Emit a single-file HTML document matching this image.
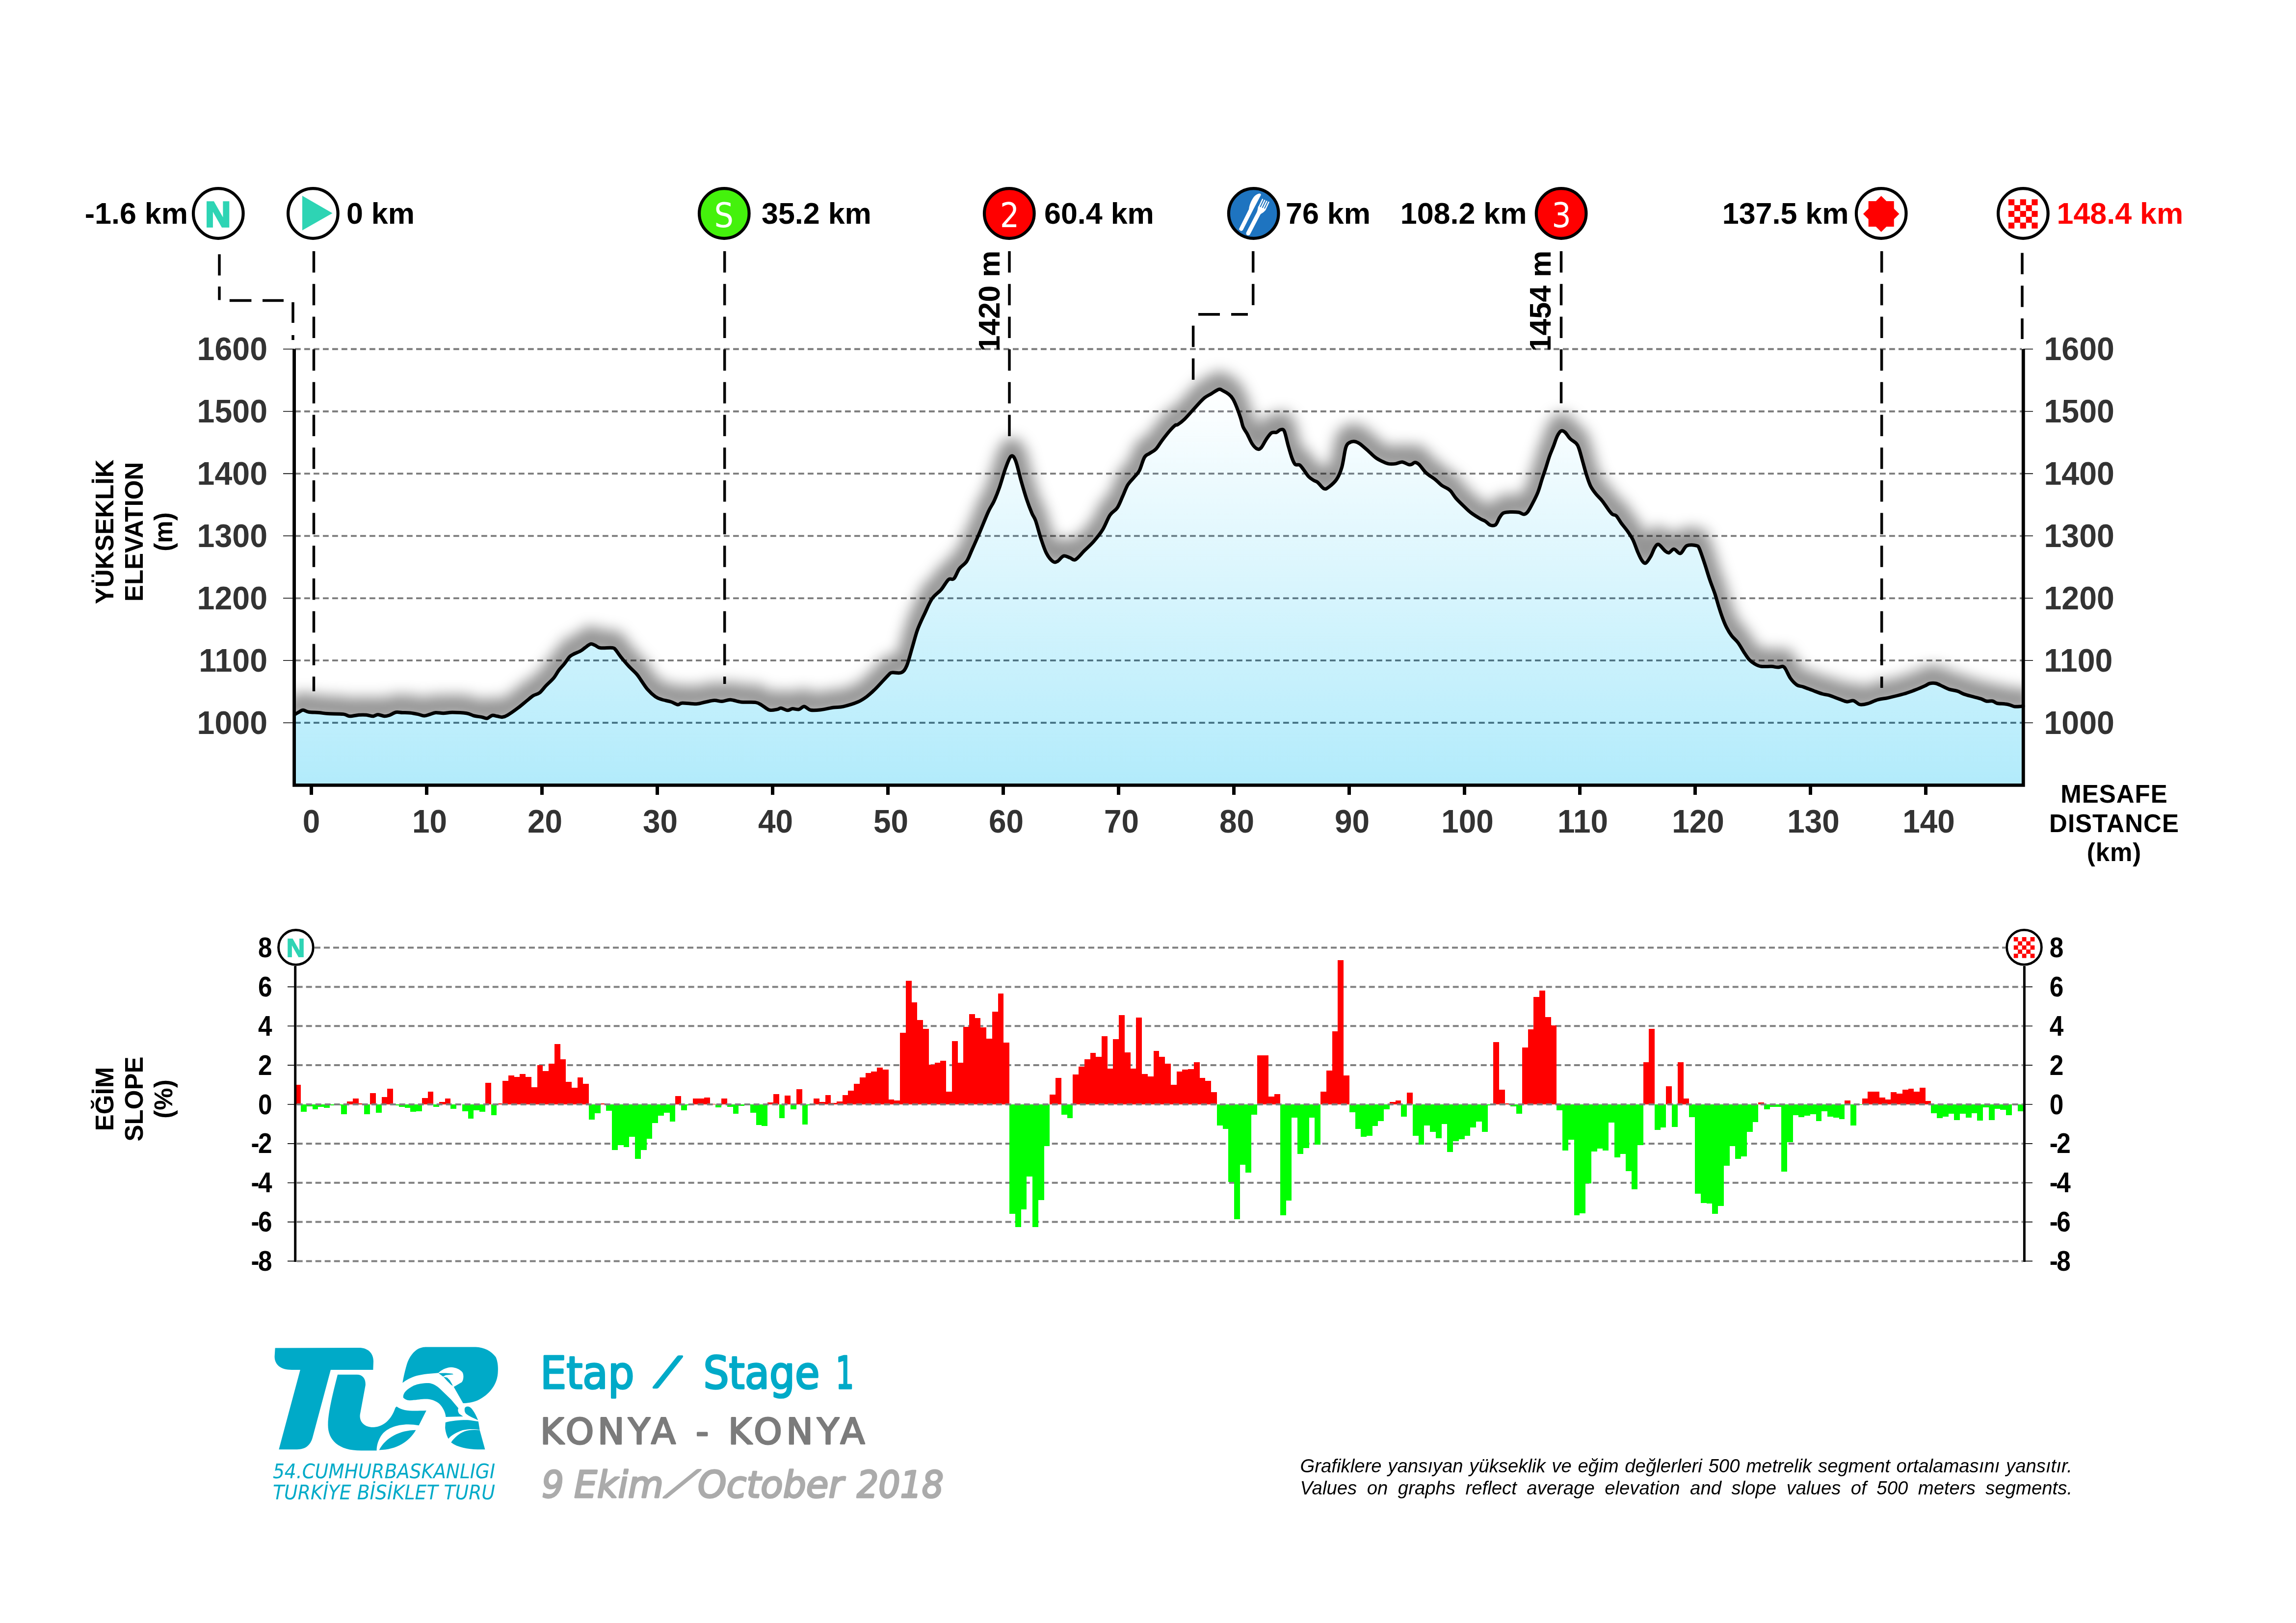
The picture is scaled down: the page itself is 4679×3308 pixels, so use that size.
<!DOCTYPE html><html><head><meta charset="utf-8"><title>Etap 1 Konya - Konya</title>
<style>html,body{margin:0;padding:0;background:#fff;}body{width:4679px;height:3308px;overflow:hidden;position:relative;}svg{position:absolute;left:0;top:0;display:block;}.note{position:absolute;left:2650px;width:1578px;font:italic 35.5px "Liberation Sans", Arial, sans-serif;color:#000;text-align:justify;text-align-last:justify;white-space:nowrap;line-height:45px;}</style></head><body>
<svg width="4679" height="3308" viewBox="0 0 4679 3308">
<defs>
<linearGradient id="gfill" gradientUnits="userSpaceOnUse" x1="0" y1="790" x2="0" y2="1600"><stop offset="0" stop-color="#ffffff"/><stop offset="1" stop-color="#b2ebfb"/></linearGradient>
<filter id="glow" x="-5%" y="-20%" width="110%" height="140%"><feGaussianBlur stdDeviation="14"/></filter>
<clipPath id="plot"><rect x="600" y="631.5" width="3523.3" height="968.5"/></clipPath>
<clipPath id="abovegrid"><rect x="0" y="0" width="4679" height="712.5"/></clipPath>
</defs>
<g clip-path="url(#plot)"><path transform="translate(0,-14)" d="M601.8,1455.6 C603.1,1454.9 607,1452.6 609.6,1451.2 C612.2,1449.8 614.1,1447.2 617.4,1447.2 C620.7,1447.2 623.8,1450.3 629.2,1451.2 C634.7,1452.1 643.6,1451.9 650.1,1452.5 C656.6,1453.1 660.1,1454.1 668.4,1454.6 C676.7,1455.1 692.4,1454.7 699.8,1455.6 C707.2,1456.5 707.6,1459.5 712.8,1459.8 C718,1460.1 725.4,1457.6 731.1,1457.2 C736.8,1456.8 742,1456.8 746.8,1457.2 C751.6,1457.6 756,1459.9 759.9,1459.8 C763.8,1459.7 766.4,1456.4 770.3,1456.4 C774.2,1456.4 779.5,1459.6 783.4,1459.8 C787.3,1460 789.9,1459 793.8,1457.7 C797.7,1456.4 802.5,1452.6 806.9,1451.7 C811.3,1450.8 815.2,1452.3 820,1452.5 C824.8,1452.7 830.4,1452.5 835.6,1453 C840.8,1453.5 846.5,1454.6 851.3,1455.6 C856.1,1456.6 860.5,1458.9 864.4,1459 C868.3,1459.1 870.9,1457.5 874.8,1456.4 C878.7,1455.3 883.1,1452.9 887.9,1452.5 C892.7,1452.1 897.9,1453.9 903.6,1453.8 C909.3,1453.7 914.1,1452 921.9,1452 C929.7,1452 943.2,1452.6 950.6,1453.8 C958,1455 961.1,1457.7 966.3,1459 C971.5,1460.3 977.6,1460.7 982,1461.6 C986.4,1462.5 988.9,1464.8 992.4,1464.2 C995.9,1463.6 999.4,1458.9 1002.9,1458.2 C1006.4,1457.5 1009.8,1459.2 1013.3,1459.8 C1016.8,1460.4 1020.3,1461.9 1023.8,1461.6 C1027.3,1461.2 1029,1460.8 1034.2,1457.7 C1039.4,1454.7 1048.6,1448.2 1055.1,1443.3 C1061.6,1438.4 1068.2,1432.6 1073.4,1428.4 C1078.6,1424.2 1082.1,1420.7 1086.5,1418 C1090.9,1415.3 1095.2,1415.4 1099.6,1412 C1103.9,1408.6 1107.8,1402.6 1112.6,1397.6 C1117.4,1392.6 1123.9,1387.1 1128.3,1381.9 C1132.7,1376.7 1135.2,1371 1138.8,1366.2 C1142.4,1361.4 1146.4,1357.8 1150,1353.2 C1153.6,1348.6 1157.5,1342.1 1160.5,1338.8 C1163.5,1335.5 1164.6,1335.6 1168.3,1333.6 C1172,1331.6 1178.8,1329.2 1182.7,1327 C1186.6,1324.8 1188.3,1322.9 1191.8,1320.5 C1195.3,1318.1 1200.1,1313.6 1203.6,1312.7 C1207.1,1311.8 1209.4,1314 1212.7,1315.3 C1216,1316.6 1217.3,1319.6 1223.2,1320.5 C1229.1,1321.4 1242.8,1319.8 1248,1320.5 C1253.2,1321.2 1251.7,1321.4 1254.5,1324.4 C1257.3,1327.5 1260.6,1333.3 1265,1338.8 C1269.4,1344.2 1275.3,1351.2 1280.7,1357.1 C1286.1,1363 1293.2,1369.1 1297.6,1374.1 C1301.9,1379.1 1303.1,1381.9 1306.8,1387.1 C1310.5,1392.3 1315.1,1400 1319.9,1405.4 C1324.7,1410.9 1330.7,1416.4 1335.5,1419.8 C1340.3,1423.2 1343.4,1424 1348.6,1425.8 C1353.8,1427.5 1361.5,1428.5 1366.9,1430.3 C1372.4,1432 1377.4,1435.9 1381.3,1436.3 C1385.2,1436.7 1384.1,1433.2 1390.4,1432.9 C1396.7,1432.6 1411.4,1435 1419.2,1434.7 C1427,1434.4 1431.4,1432.2 1437.5,1431 C1443.6,1429.8 1450,1427.8 1455.7,1427.6 C1461.4,1427.3 1466,1429.7 1471.4,1429.5 C1476.9,1429.3 1481.9,1426 1488.4,1426.3 C1494.9,1426.5 1502.1,1430.1 1510.6,1431 C1519.1,1431.9 1532.4,1430.5 1539.4,1431.6 C1546.4,1432.6 1547.6,1434.7 1552.4,1437.3 C1557.2,1439.9 1562.9,1445.8 1568.1,1447.2 C1573.3,1448.6 1579.9,1446.6 1583.8,1445.9 C1587.7,1445.2 1588.1,1443 1591.6,1443.3 C1595.1,1443.6 1600.8,1447.6 1604.7,1447.8 C1608.6,1448 1611.3,1444.9 1615.2,1444.6 C1619.1,1444.3 1624.3,1446.7 1628.2,1445.9 C1632.1,1445.1 1634.8,1439.7 1638.7,1439.9 C1642.6,1440.1 1646.1,1446.1 1651.7,1447.2 C1657.3,1448.3 1664.8,1447.6 1672.6,1446.7 C1680.4,1445.8 1691.1,1443.1 1698.8,1442 C1706.5,1440.9 1710.3,1442 1718.5,1440.1 C1726.7,1438.2 1740.1,1434.2 1748.1,1430.8 C1756.1,1427.4 1760.3,1424.3 1766.5,1419.7 C1772.7,1415.1 1777.6,1410.5 1785,1403.1 C1792.4,1395.7 1805.4,1380.8 1810.9,1375.4 C1816.5,1370 1814,1371.7 1818.3,1370.9 C1822.6,1370.2 1831.9,1373.2 1836.8,1370.9 C1841.7,1368.6 1844.2,1365.4 1847.9,1356.9 C1851.6,1348.4 1855.3,1332.2 1859,1319.9 C1862.7,1307.6 1865.7,1294.7 1870,1283 C1874.3,1271.3 1879.9,1260.2 1884.8,1249.7 C1889.7,1239.2 1894,1228.1 1899.6,1220.1 C1905.1,1212.1 1912.5,1208.1 1918.1,1201.6 C1923.6,1195.1 1928.6,1185 1932.9,1181.3 C1937.2,1177.6 1940.3,1183.1 1944,1179.4 C1947.7,1175.7 1950.8,1164.9 1955.1,1159.1 C1959.4,1153.2 1965.6,1150.8 1969.9,1144.3 C1974.2,1137.8 1976.7,1129.8 1981,1120.3 C1985.3,1110.8 1990.2,1099.9 1995.7,1087 C2001.2,1074.1 2009.3,1053.5 2014.2,1042.7 C2019.1,1031.9 2021.6,1030.3 2025.3,1022.3 C2029,1014.3 2032.4,1006 2036.4,994.6 C2040.4,983.2 2045.4,964.7 2049.4,953.9 C2053.4,943.1 2057,932.4 2060.4,929.9 C2063.8,927.4 2066.3,930.8 2069.7,939.1 C2073.1,947.4 2077.1,966.8 2080.8,979.8 C2084.5,992.8 2088.2,1005.7 2091.9,1016.8 C2095.6,1027.9 2099.9,1039 2103,1046.4 C2106.1,1053.8 2107.3,1052.5 2110.4,1061.1 C2113.5,1069.7 2117.7,1087 2121.4,1098.1 C2125.1,1109.2 2128.5,1120 2132.5,1127.7 C2136.5,1135.4 2141.8,1141.5 2145.5,1144.3 C2149.2,1147.1 2151,1146.1 2154.7,1144.3 C2158.4,1142.5 2163.4,1134.4 2167.7,1133.2 C2172,1132 2176.6,1135.7 2180.6,1136.9 C2184.6,1138.1 2186.8,1143.1 2191.7,1140.6 C2196.6,1138.1 2204,1128.2 2210.2,1122.1 C2216.4,1115.9 2222.5,1110.8 2228.7,1103.7 C2234.8,1096.6 2241.6,1088.5 2247.1,1079.6 C2252.6,1070.7 2257,1057.5 2261.9,1050.1 C2266.8,1042.7 2272.4,1041.7 2276.7,1035.3 C2281,1028.9 2284.2,1019.6 2287.8,1011.8 C2291.4,1004 2294.4,994.8 2298.3,988.3 C2302.2,981.8 2307.5,977.4 2311.4,972.6 C2315.3,967.8 2318.3,966.2 2321.8,959.5 C2325.3,952.8 2328.8,938 2332.3,932.1 C2335.8,926.2 2338.8,927 2342.7,924.2 C2346.6,921.4 2351.5,919.7 2355.8,915.1 C2360.2,910.5 2364,903.1 2368.8,896.8 C2373.6,890.5 2380.1,882.2 2384.5,877.2 C2388.9,872.2 2392.4,868.7 2395,866.7 C2397.6,864.7 2397.1,867.4 2400.2,865.4 C2403.2,863.4 2408.5,859.6 2413.3,855 C2418.1,850.4 2424.2,843.2 2429,838 C2433.8,832.8 2437.7,828.2 2442,823.6 C2446.3,819 2450.7,814.1 2455.1,810.6 C2459.5,807.1 2463.4,805.5 2468.2,802.7 C2473,799.9 2479.9,794.7 2483.8,793.6 C2487.7,792.5 2488.2,794.5 2491.7,796.2 C2495.2,797.9 2501.2,801.2 2504.7,804 C2508.2,806.8 2510,808.8 2512.6,813.2 C2515.2,817.6 2517.8,823.7 2520.4,830.2 C2523,836.7 2526.1,845.6 2528.3,852.4 C2530.5,859.1 2531.3,865.5 2533.5,870.7 C2535.7,875.9 2538.2,878.1 2541.3,883.7 C2544.4,889.4 2548.3,899.4 2551.8,904.6 C2555.3,909.8 2559.1,913.8 2562.2,915.1 C2565.2,916.4 2567,915.8 2570.1,912.5 C2573.2,909.2 2577,900.5 2580.5,895.5 C2584,890.5 2587.5,884.8 2591,882.4 C2594.5,880 2598.3,882.2 2601.4,881.1 C2604.5,880 2606.7,876.3 2609.3,875.9 C2611.9,875.5 2614.5,873.3 2617.1,878.5 C2619.7,883.7 2622.3,898.1 2624.9,907.2 C2627.5,916.4 2630.4,926.9 2632.8,933.4 C2635.2,939.9 2636.7,944 2639.3,946.4 C2641.9,948.8 2645.7,946 2648.5,947.8 C2651.3,949.5 2653.2,953 2656.3,956.9 C2659.4,960.8 2663.3,967.6 2666.8,971.3 C2670.3,975 2674.1,977.1 2677.2,979.1 C2680.2,981.1 2681.6,980.2 2685.1,983 C2688.6,985.8 2694.2,994.6 2698.1,996.1 C2702,997.6 2704.2,995.5 2708.6,992.2 C2712.9,988.9 2719.8,983.2 2724.2,976.5 C2728.5,969.8 2731.6,962.4 2734.7,951.7 C2737.8,941 2739.9,920.8 2742.5,912.5 C2745.1,904.2 2747.3,904.1 2750.4,902 C2753.5,899.9 2757.3,899.5 2760.8,899.9 C2764.3,900.3 2766.5,901.2 2771.3,904.6 C2776.1,908 2784.4,915.7 2789.6,920.3 C2794.8,924.9 2798.2,928.8 2802.6,932.1 C2806.9,935.4 2811.3,937.7 2815.7,939.9 C2820.1,942.1 2824,944.2 2828.8,945.1 C2833.6,946 2839.7,945.7 2844.5,945.1 C2849.3,944.5 2853.2,941.4 2857.5,941.7 C2861.8,942 2867.2,946.1 2870.5,946.9 C2873.8,947.7 2874.8,947 2877,946.3 C2879.2,945.5 2881.1,942.4 2883.5,942.4 C2885.9,942.4 2887.9,943 2891.4,946.3 C2894.9,949.6 2900.9,958.3 2904.4,962 C2907.9,965.7 2908.8,966 2912.3,968.6 C2915.8,971.2 2921,974.2 2925.3,977.7 C2929.7,981.2 2934.2,986.5 2938.4,989.5 C2942.6,992.5 2947.1,994 2950.2,996 C2953.2,998 2953.9,997.9 2956.7,1001.2 C2959.5,1004.5 2962.3,1010.1 2967.1,1015.6 C2971.9,1021.1 2980.2,1028.9 2985.4,1033.9 C2990.6,1038.9 2993.3,1041.7 2998.5,1045.6 C3003.7,1049.5 3012,1054.6 3016.8,1057.4 C3021.6,1060.2 3023.7,1060.4 3027.2,1062.6 C3030.7,1064.8 3034.2,1069.4 3037.7,1070.5 C3041.2,1071.6 3045.1,1071.8 3048.2,1069.2 C3051.2,1066.6 3053.4,1058.7 3056,1054.8 C3058.6,1050.9 3060.3,1047.5 3063.8,1045.6 C3067.3,1043.7 3071.7,1043.8 3076.9,1043.6 C3082.1,1043.4 3090.4,1043.5 3095.2,1044.3 C3100,1045.1 3102.5,1048.5 3105.6,1048.3 C3108.7,1048.1 3110.4,1046.9 3113.5,1043 C3116.6,1039.1 3120.4,1031.5 3123.9,1024.7 C3127.4,1018 3131.4,1010.3 3134.4,1002.5 C3137.4,994.7 3139.6,985.8 3142.2,977.7 C3144.8,969.7 3147.5,962.2 3150.1,954.2 C3152.7,946.2 3155.3,936.8 3157.9,929.4 C3160.5,922 3163.1,916.6 3165.7,909.8 C3168.3,903 3171,894 3173.6,888.8 C3176.2,883.6 3178.8,879.7 3181.4,878.4 C3184,877.1 3186.2,878.4 3189.3,881 C3192.4,883.6 3195.8,890.2 3199.7,894.1 C3203.6,898 3209.8,901 3212.8,904.5 C3215.9,908 3215.8,908.7 3218,915 C3220.2,921.3 3223.2,933.2 3225.8,942.4 C3228.4,951.5 3231.1,961.8 3233.7,969.9 C3236.3,978 3238.4,984.7 3241.5,990.8 C3244.6,996.9 3248.1,1001.4 3252,1006.4 C3255.9,1011.4 3260.8,1015.3 3265.1,1020.8 C3269.4,1026.2 3274.6,1034.5 3278.1,1039.1 C3281.6,1043.7 3283.4,1046.2 3286,1048.3 C3288.6,1050.3 3290.8,1048.4 3293.8,1051.4 C3296.8,1054.5 3300.3,1061.2 3304.2,1066.6 C3308.1,1071.9 3313.4,1077.8 3317.3,1083.5 C3321.2,1089.2 3324.3,1093.3 3327.8,1100.5 C3331.3,1107.7 3335.1,1119.7 3338.2,1126.7 C3341.2,1133.7 3343.5,1138.8 3346.1,1142.3 C3348.7,1145.8 3350.8,1149.1 3353.9,1147.6 C3357,1146.1 3361.4,1138.4 3364.4,1133.2 C3367.4,1128 3369.6,1120.1 3372.2,1116.2 C3374.8,1112.3 3376.5,1108.6 3380,1109.7 C3383.5,1110.8 3389.6,1119.9 3393.1,1122.7 C3396.6,1125.5 3397.8,1127.3 3400.9,1126.7 C3404,1126.1 3407.5,1119.1 3411.4,1119.3 C3415.3,1119.5 3420.2,1129.2 3424.5,1128 C3428.8,1126.8 3432.1,1115 3437.5,1112.3 C3442.9,1109.6 3452.7,1110.9 3457,1112.1 C3461.3,1113.2 3460.7,1113 3463.5,1119.2 C3466.3,1125.4 3470.5,1138.8 3474,1149.2 C3477.5,1159.7 3480.9,1171.7 3484.4,1181.9 C3487.9,1192.2 3491.9,1201.6 3494.9,1210.7 C3497.9,1219.8 3500.1,1228.5 3502.7,1236.8 C3505.3,1245.1 3508,1253.3 3510.6,1260.3 C3513.2,1267.3 3515.4,1272.7 3518.4,1278.6 C3521.4,1284.5 3524.9,1290.4 3528.8,1295.6 C3532.7,1300.8 3537.5,1304.1 3541.9,1310 C3546.3,1315.9 3551.1,1325 3555,1330.9 C3558.9,1336.8 3561.9,1341.5 3565.4,1345.2 C3568.9,1348.9 3572,1350.9 3575.9,1353.1 C3579.8,1355.3 3583.3,1357.4 3589,1358.3 C3594.7,1359.2 3604.2,1358 3609.9,1358.3 C3615.6,1358.6 3619,1360.1 3622.9,1360.1 C3626.8,1360.1 3630.8,1357.7 3633.4,1358.3 C3636,1358.9 3636,1359.4 3638.6,1363.5 C3641.2,1367.6 3645.2,1377.6 3649.1,1383.1 C3653,1388.5 3657.8,1393.4 3662.1,1396.2 C3666.4,1399 3669.5,1398.1 3675.2,1400.1 C3680.9,1402.1 3689.6,1405.6 3696.1,1408 C3702.6,1410.4 3709.2,1413 3714.4,1414.5 C3719.6,1416 3721.8,1415.4 3727.5,1417.1 C3733.2,1418.8 3742.3,1422.7 3748.4,1424.9 C3754.5,1427.1 3759.2,1429.7 3764,1430.2 C3768.8,1430.7 3772.7,1427.1 3777.1,1428.1 C3781.5,1429 3785.4,1434.9 3790.2,1435.9 C3795,1436.9 3799.7,1435.7 3805.8,1434.1 C3811.9,1432.5 3819.8,1428.2 3826.8,1426.2 C3833.8,1424.2 3839,1424.2 3847.7,1422.3 C3856.4,1420.3 3870.3,1417 3879,1414.5 C3887.7,1412 3894.3,1409.5 3900,1407.4 C3905.7,1405.4 3909.2,1403.8 3913.1,1402.2 C3917,1400.6 3920.2,1399.1 3923.5,1397.6 C3926.8,1396.1 3929,1393.8 3932.7,1393 C3936.4,1392.2 3941.3,1392 3945.7,1393 C3950,1394 3954.4,1396.9 3958.8,1398.9 C3963.2,1400.9 3966.9,1403.2 3971.9,1404.8 C3976.9,1406.4 3983.9,1407.1 3988.9,1408.7 C3993.9,1410.3 3997.1,1412.8 4001.9,1414.6 C4006.7,1416.3 4011.7,1417.6 4017.6,1419.2 C4023.5,1420.8 4032.2,1422.8 4037.2,1424.4 C4042.2,1426 4043.8,1428.2 4047.7,1429 C4051.6,1429.8 4057,1428.2 4060.7,1429 C4064.4,1429.8 4065.8,1432.5 4069.9,1433.5 C4074,1434.5 4081.2,1434.2 4085.5,1434.8 C4089.8,1435.3 4092.7,1435.9 4096,1436.8 C4099.3,1437.7 4101.8,1439.5 4105.1,1440.1 C4108.4,1440.6 4112.6,1440.3 4115.6,1440.1 C4118.6,1439.9 4121.8,1439 4123,1438.8" fill="none" stroke="#000" stroke-opacity="0.42" stroke-width="44" stroke-linejoin="round" stroke-linecap="round" filter="url(#glow)"/></g>
<path d="M601,1473.2 H4120.3 M601,1346.2 H4120.3 M601,1219.3 H4120.3 M601,1092.3 H4120.3 M601,965.4 H4120.3 M601,838.5 H4120.3 M601,711.5 H4120.3" stroke="#000" stroke-opacity="0.52" stroke-width="3.8" stroke-dasharray="11.8 7.2" fill="none" style="mix-blend-mode:multiply"/>
<clipPath id="fillclip"><path d="M601.8,1455.6 C603.1,1454.9 607,1452.6 609.6,1451.2 C612.2,1449.8 614.1,1447.2 617.4,1447.2 C620.7,1447.2 623.8,1450.3 629.2,1451.2 C634.7,1452.1 643.6,1451.9 650.1,1452.5 C656.6,1453.1 660.1,1454.1 668.4,1454.6 C676.7,1455.1 692.4,1454.7 699.8,1455.6 C707.2,1456.5 707.6,1459.5 712.8,1459.8 C718,1460.1 725.4,1457.6 731.1,1457.2 C736.8,1456.8 742,1456.8 746.8,1457.2 C751.6,1457.6 756,1459.9 759.9,1459.8 C763.8,1459.7 766.4,1456.4 770.3,1456.4 C774.2,1456.4 779.5,1459.6 783.4,1459.8 C787.3,1460 789.9,1459 793.8,1457.7 C797.7,1456.4 802.5,1452.6 806.9,1451.7 C811.3,1450.8 815.2,1452.3 820,1452.5 C824.8,1452.7 830.4,1452.5 835.6,1453 C840.8,1453.5 846.5,1454.6 851.3,1455.6 C856.1,1456.6 860.5,1458.9 864.4,1459 C868.3,1459.1 870.9,1457.5 874.8,1456.4 C878.7,1455.3 883.1,1452.9 887.9,1452.5 C892.7,1452.1 897.9,1453.9 903.6,1453.8 C909.3,1453.7 914.1,1452 921.9,1452 C929.7,1452 943.2,1452.6 950.6,1453.8 C958,1455 961.1,1457.7 966.3,1459 C971.5,1460.3 977.6,1460.7 982,1461.6 C986.4,1462.5 988.9,1464.8 992.4,1464.2 C995.9,1463.6 999.4,1458.9 1002.9,1458.2 C1006.4,1457.5 1009.8,1459.2 1013.3,1459.8 C1016.8,1460.4 1020.3,1461.9 1023.8,1461.6 C1027.3,1461.2 1029,1460.8 1034.2,1457.7 C1039.4,1454.7 1048.6,1448.2 1055.1,1443.3 C1061.6,1438.4 1068.2,1432.6 1073.4,1428.4 C1078.6,1424.2 1082.1,1420.7 1086.5,1418 C1090.9,1415.3 1095.2,1415.4 1099.6,1412 C1103.9,1408.6 1107.8,1402.6 1112.6,1397.6 C1117.4,1392.6 1123.9,1387.1 1128.3,1381.9 C1132.7,1376.7 1135.2,1371 1138.8,1366.2 C1142.4,1361.4 1146.4,1357.8 1150,1353.2 C1153.6,1348.6 1157.5,1342.1 1160.5,1338.8 C1163.5,1335.5 1164.6,1335.6 1168.3,1333.6 C1172,1331.6 1178.8,1329.2 1182.7,1327 C1186.6,1324.8 1188.3,1322.9 1191.8,1320.5 C1195.3,1318.1 1200.1,1313.6 1203.6,1312.7 C1207.1,1311.8 1209.4,1314 1212.7,1315.3 C1216,1316.6 1217.3,1319.6 1223.2,1320.5 C1229.1,1321.4 1242.8,1319.8 1248,1320.5 C1253.2,1321.2 1251.7,1321.4 1254.5,1324.4 C1257.3,1327.5 1260.6,1333.3 1265,1338.8 C1269.4,1344.2 1275.3,1351.2 1280.7,1357.1 C1286.1,1363 1293.2,1369.1 1297.6,1374.1 C1301.9,1379.1 1303.1,1381.9 1306.8,1387.1 C1310.5,1392.3 1315.1,1400 1319.9,1405.4 C1324.7,1410.9 1330.7,1416.4 1335.5,1419.8 C1340.3,1423.2 1343.4,1424 1348.6,1425.8 C1353.8,1427.5 1361.5,1428.5 1366.9,1430.3 C1372.4,1432 1377.4,1435.9 1381.3,1436.3 C1385.2,1436.7 1384.1,1433.2 1390.4,1432.9 C1396.7,1432.6 1411.4,1435 1419.2,1434.7 C1427,1434.4 1431.4,1432.2 1437.5,1431 C1443.6,1429.8 1450,1427.8 1455.7,1427.6 C1461.4,1427.3 1466,1429.7 1471.4,1429.5 C1476.9,1429.3 1481.9,1426 1488.4,1426.3 C1494.9,1426.5 1502.1,1430.1 1510.6,1431 C1519.1,1431.9 1532.4,1430.5 1539.4,1431.6 C1546.4,1432.6 1547.6,1434.7 1552.4,1437.3 C1557.2,1439.9 1562.9,1445.8 1568.1,1447.2 C1573.3,1448.6 1579.9,1446.6 1583.8,1445.9 C1587.7,1445.2 1588.1,1443 1591.6,1443.3 C1595.1,1443.6 1600.8,1447.6 1604.7,1447.8 C1608.6,1448 1611.3,1444.9 1615.2,1444.6 C1619.1,1444.3 1624.3,1446.7 1628.2,1445.9 C1632.1,1445.1 1634.8,1439.7 1638.7,1439.9 C1642.6,1440.1 1646.1,1446.1 1651.7,1447.2 C1657.3,1448.3 1664.8,1447.6 1672.6,1446.7 C1680.4,1445.8 1691.1,1443.1 1698.8,1442 C1706.5,1440.9 1710.3,1442 1718.5,1440.1 C1726.7,1438.2 1740.1,1434.2 1748.1,1430.8 C1756.1,1427.4 1760.3,1424.3 1766.5,1419.7 C1772.7,1415.1 1777.6,1410.5 1785,1403.1 C1792.4,1395.7 1805.4,1380.8 1810.9,1375.4 C1816.5,1370 1814,1371.7 1818.3,1370.9 C1822.6,1370.2 1831.9,1373.2 1836.8,1370.9 C1841.7,1368.6 1844.2,1365.4 1847.9,1356.9 C1851.6,1348.4 1855.3,1332.2 1859,1319.9 C1862.7,1307.6 1865.7,1294.7 1870,1283 C1874.3,1271.3 1879.9,1260.2 1884.8,1249.7 C1889.7,1239.2 1894,1228.1 1899.6,1220.1 C1905.1,1212.1 1912.5,1208.1 1918.1,1201.6 C1923.6,1195.1 1928.6,1185 1932.9,1181.3 C1937.2,1177.6 1940.3,1183.1 1944,1179.4 C1947.7,1175.7 1950.8,1164.9 1955.1,1159.1 C1959.4,1153.2 1965.6,1150.8 1969.9,1144.3 C1974.2,1137.8 1976.7,1129.8 1981,1120.3 C1985.3,1110.8 1990.2,1099.9 1995.7,1087 C2001.2,1074.1 2009.3,1053.5 2014.2,1042.7 C2019.1,1031.9 2021.6,1030.3 2025.3,1022.3 C2029,1014.3 2032.4,1006 2036.4,994.6 C2040.4,983.2 2045.4,964.7 2049.4,953.9 C2053.4,943.1 2057,932.4 2060.4,929.9 C2063.8,927.4 2066.3,930.8 2069.7,939.1 C2073.1,947.4 2077.1,966.8 2080.8,979.8 C2084.5,992.8 2088.2,1005.7 2091.9,1016.8 C2095.6,1027.9 2099.9,1039 2103,1046.4 C2106.1,1053.8 2107.3,1052.5 2110.4,1061.1 C2113.5,1069.7 2117.7,1087 2121.4,1098.1 C2125.1,1109.2 2128.5,1120 2132.5,1127.7 C2136.5,1135.4 2141.8,1141.5 2145.5,1144.3 C2149.2,1147.1 2151,1146.1 2154.7,1144.3 C2158.4,1142.5 2163.4,1134.4 2167.7,1133.2 C2172,1132 2176.6,1135.7 2180.6,1136.9 C2184.6,1138.1 2186.8,1143.1 2191.7,1140.6 C2196.6,1138.1 2204,1128.2 2210.2,1122.1 C2216.4,1115.9 2222.5,1110.8 2228.7,1103.7 C2234.8,1096.6 2241.6,1088.5 2247.1,1079.6 C2252.6,1070.7 2257,1057.5 2261.9,1050.1 C2266.8,1042.7 2272.4,1041.7 2276.7,1035.3 C2281,1028.9 2284.2,1019.6 2287.8,1011.8 C2291.4,1004 2294.4,994.8 2298.3,988.3 C2302.2,981.8 2307.5,977.4 2311.4,972.6 C2315.3,967.8 2318.3,966.2 2321.8,959.5 C2325.3,952.8 2328.8,938 2332.3,932.1 C2335.8,926.2 2338.8,927 2342.7,924.2 C2346.6,921.4 2351.5,919.7 2355.8,915.1 C2360.2,910.5 2364,903.1 2368.8,896.8 C2373.6,890.5 2380.1,882.2 2384.5,877.2 C2388.9,872.2 2392.4,868.7 2395,866.7 C2397.6,864.7 2397.1,867.4 2400.2,865.4 C2403.2,863.4 2408.5,859.6 2413.3,855 C2418.1,850.4 2424.2,843.2 2429,838 C2433.8,832.8 2437.7,828.2 2442,823.6 C2446.3,819 2450.7,814.1 2455.1,810.6 C2459.5,807.1 2463.4,805.5 2468.2,802.7 C2473,799.9 2479.9,794.7 2483.8,793.6 C2487.7,792.5 2488.2,794.5 2491.7,796.2 C2495.2,797.9 2501.2,801.2 2504.7,804 C2508.2,806.8 2510,808.8 2512.6,813.2 C2515.2,817.6 2517.8,823.7 2520.4,830.2 C2523,836.7 2526.1,845.6 2528.3,852.4 C2530.5,859.1 2531.3,865.5 2533.5,870.7 C2535.7,875.9 2538.2,878.1 2541.3,883.7 C2544.4,889.4 2548.3,899.4 2551.8,904.6 C2555.3,909.8 2559.1,913.8 2562.2,915.1 C2565.2,916.4 2567,915.8 2570.1,912.5 C2573.2,909.2 2577,900.5 2580.5,895.5 C2584,890.5 2587.5,884.8 2591,882.4 C2594.5,880 2598.3,882.2 2601.4,881.1 C2604.5,880 2606.7,876.3 2609.3,875.9 C2611.9,875.5 2614.5,873.3 2617.1,878.5 C2619.7,883.7 2622.3,898.1 2624.9,907.2 C2627.5,916.4 2630.4,926.9 2632.8,933.4 C2635.2,939.9 2636.7,944 2639.3,946.4 C2641.9,948.8 2645.7,946 2648.5,947.8 C2651.3,949.5 2653.2,953 2656.3,956.9 C2659.4,960.8 2663.3,967.6 2666.8,971.3 C2670.3,975 2674.1,977.1 2677.2,979.1 C2680.2,981.1 2681.6,980.2 2685.1,983 C2688.6,985.8 2694.2,994.6 2698.1,996.1 C2702,997.6 2704.2,995.5 2708.6,992.2 C2712.9,988.9 2719.8,983.2 2724.2,976.5 C2728.5,969.8 2731.6,962.4 2734.7,951.7 C2737.8,941 2739.9,920.8 2742.5,912.5 C2745.1,904.2 2747.3,904.1 2750.4,902 C2753.5,899.9 2757.3,899.5 2760.8,899.9 C2764.3,900.3 2766.5,901.2 2771.3,904.6 C2776.1,908 2784.4,915.7 2789.6,920.3 C2794.8,924.9 2798.2,928.8 2802.6,932.1 C2806.9,935.4 2811.3,937.7 2815.7,939.9 C2820.1,942.1 2824,944.2 2828.8,945.1 C2833.6,946 2839.7,945.7 2844.5,945.1 C2849.3,944.5 2853.2,941.4 2857.5,941.7 C2861.8,942 2867.2,946.1 2870.5,946.9 C2873.8,947.7 2874.8,947 2877,946.3 C2879.2,945.5 2881.1,942.4 2883.5,942.4 C2885.9,942.4 2887.9,943 2891.4,946.3 C2894.9,949.6 2900.9,958.3 2904.4,962 C2907.9,965.7 2908.8,966 2912.3,968.6 C2915.8,971.2 2921,974.2 2925.3,977.7 C2929.7,981.2 2934.2,986.5 2938.4,989.5 C2942.6,992.5 2947.1,994 2950.2,996 C2953.2,998 2953.9,997.9 2956.7,1001.2 C2959.5,1004.5 2962.3,1010.1 2967.1,1015.6 C2971.9,1021.1 2980.2,1028.9 2985.4,1033.9 C2990.6,1038.9 2993.3,1041.7 2998.5,1045.6 C3003.7,1049.5 3012,1054.6 3016.8,1057.4 C3021.6,1060.2 3023.7,1060.4 3027.2,1062.6 C3030.7,1064.8 3034.2,1069.4 3037.7,1070.5 C3041.2,1071.6 3045.1,1071.8 3048.2,1069.2 C3051.2,1066.6 3053.4,1058.7 3056,1054.8 C3058.6,1050.9 3060.3,1047.5 3063.8,1045.6 C3067.3,1043.7 3071.7,1043.8 3076.9,1043.6 C3082.1,1043.4 3090.4,1043.5 3095.2,1044.3 C3100,1045.1 3102.5,1048.5 3105.6,1048.3 C3108.7,1048.1 3110.4,1046.9 3113.5,1043 C3116.6,1039.1 3120.4,1031.5 3123.9,1024.7 C3127.4,1018 3131.4,1010.3 3134.4,1002.5 C3137.4,994.7 3139.6,985.8 3142.2,977.7 C3144.8,969.7 3147.5,962.2 3150.1,954.2 C3152.7,946.2 3155.3,936.8 3157.9,929.4 C3160.5,922 3163.1,916.6 3165.7,909.8 C3168.3,903 3171,894 3173.6,888.8 C3176.2,883.6 3178.8,879.7 3181.4,878.4 C3184,877.1 3186.2,878.4 3189.3,881 C3192.4,883.6 3195.8,890.2 3199.7,894.1 C3203.6,898 3209.8,901 3212.8,904.5 C3215.9,908 3215.8,908.7 3218,915 C3220.2,921.3 3223.2,933.2 3225.8,942.4 C3228.4,951.5 3231.1,961.8 3233.7,969.9 C3236.3,978 3238.4,984.7 3241.5,990.8 C3244.6,996.9 3248.1,1001.4 3252,1006.4 C3255.9,1011.4 3260.8,1015.3 3265.1,1020.8 C3269.4,1026.2 3274.6,1034.5 3278.1,1039.1 C3281.6,1043.7 3283.4,1046.2 3286,1048.3 C3288.6,1050.3 3290.8,1048.4 3293.8,1051.4 C3296.8,1054.5 3300.3,1061.2 3304.2,1066.6 C3308.1,1071.9 3313.4,1077.8 3317.3,1083.5 C3321.2,1089.2 3324.3,1093.3 3327.8,1100.5 C3331.3,1107.7 3335.1,1119.7 3338.2,1126.7 C3341.2,1133.7 3343.5,1138.8 3346.1,1142.3 C3348.7,1145.8 3350.8,1149.1 3353.9,1147.6 C3357,1146.1 3361.4,1138.4 3364.4,1133.2 C3367.4,1128 3369.6,1120.1 3372.2,1116.2 C3374.8,1112.3 3376.5,1108.6 3380,1109.7 C3383.5,1110.8 3389.6,1119.9 3393.1,1122.7 C3396.6,1125.5 3397.8,1127.3 3400.9,1126.7 C3404,1126.1 3407.5,1119.1 3411.4,1119.3 C3415.3,1119.5 3420.2,1129.2 3424.5,1128 C3428.8,1126.8 3432.1,1115 3437.5,1112.3 C3442.9,1109.6 3452.7,1110.9 3457,1112.1 C3461.3,1113.2 3460.7,1113 3463.5,1119.2 C3466.3,1125.4 3470.5,1138.8 3474,1149.2 C3477.5,1159.7 3480.9,1171.7 3484.4,1181.9 C3487.9,1192.2 3491.9,1201.6 3494.9,1210.7 C3497.9,1219.8 3500.1,1228.5 3502.7,1236.8 C3505.3,1245.1 3508,1253.3 3510.6,1260.3 C3513.2,1267.3 3515.4,1272.7 3518.4,1278.6 C3521.4,1284.5 3524.9,1290.4 3528.8,1295.6 C3532.7,1300.8 3537.5,1304.1 3541.9,1310 C3546.3,1315.9 3551.1,1325 3555,1330.9 C3558.9,1336.8 3561.9,1341.5 3565.4,1345.2 C3568.9,1348.9 3572,1350.9 3575.9,1353.1 C3579.8,1355.3 3583.3,1357.4 3589,1358.3 C3594.7,1359.2 3604.2,1358 3609.9,1358.3 C3615.6,1358.6 3619,1360.1 3622.9,1360.1 C3626.8,1360.1 3630.8,1357.7 3633.4,1358.3 C3636,1358.9 3636,1359.4 3638.6,1363.5 C3641.2,1367.6 3645.2,1377.6 3649.1,1383.1 C3653,1388.5 3657.8,1393.4 3662.1,1396.2 C3666.4,1399 3669.5,1398.1 3675.2,1400.1 C3680.9,1402.1 3689.6,1405.6 3696.1,1408 C3702.6,1410.4 3709.2,1413 3714.4,1414.5 C3719.6,1416 3721.8,1415.4 3727.5,1417.1 C3733.2,1418.8 3742.3,1422.7 3748.4,1424.9 C3754.5,1427.1 3759.2,1429.7 3764,1430.2 C3768.8,1430.7 3772.7,1427.1 3777.1,1428.1 C3781.5,1429 3785.4,1434.9 3790.2,1435.9 C3795,1436.9 3799.7,1435.7 3805.8,1434.1 C3811.9,1432.5 3819.8,1428.2 3826.8,1426.2 C3833.8,1424.2 3839,1424.2 3847.7,1422.3 C3856.4,1420.3 3870.3,1417 3879,1414.5 C3887.7,1412 3894.3,1409.5 3900,1407.4 C3905.7,1405.4 3909.2,1403.8 3913.1,1402.2 C3917,1400.6 3920.2,1399.1 3923.5,1397.6 C3926.8,1396.1 3929,1393.8 3932.7,1393 C3936.4,1392.2 3941.3,1392 3945.7,1393 C3950,1394 3954.4,1396.9 3958.8,1398.9 C3963.2,1400.9 3966.9,1403.2 3971.9,1404.8 C3976.9,1406.4 3983.9,1407.1 3988.9,1408.7 C3993.9,1410.3 3997.1,1412.8 4001.9,1414.6 C4006.7,1416.3 4011.7,1417.6 4017.6,1419.2 C4023.5,1420.8 4032.2,1422.8 4037.2,1424.4 C4042.2,1426 4043.8,1428.2 4047.7,1429 C4051.6,1429.8 4057,1428.2 4060.7,1429 C4064.4,1429.8 4065.8,1432.5 4069.9,1433.5 C4074,1434.5 4081.2,1434.2 4085.5,1434.8 C4089.8,1435.3 4092.7,1435.9 4096,1436.8 C4099.3,1437.7 4101.8,1439.5 4105.1,1440.1 C4108.4,1440.6 4112.6,1440.3 4115.6,1440.1 C4118.6,1439.9 4121.8,1439 4123,1438.8 L4123,1600 L601.8,1600 Z"/></clipPath>
<path d="M601.8,1455.6 C603.1,1454.9 607,1452.6 609.6,1451.2 C612.2,1449.8 614.1,1447.2 617.4,1447.2 C620.7,1447.2 623.8,1450.3 629.2,1451.2 C634.7,1452.1 643.6,1451.9 650.1,1452.5 C656.6,1453.1 660.1,1454.1 668.4,1454.6 C676.7,1455.1 692.4,1454.7 699.8,1455.6 C707.2,1456.5 707.6,1459.5 712.8,1459.8 C718,1460.1 725.4,1457.6 731.1,1457.2 C736.8,1456.8 742,1456.8 746.8,1457.2 C751.6,1457.6 756,1459.9 759.9,1459.8 C763.8,1459.7 766.4,1456.4 770.3,1456.4 C774.2,1456.4 779.5,1459.6 783.4,1459.8 C787.3,1460 789.9,1459 793.8,1457.7 C797.7,1456.4 802.5,1452.6 806.9,1451.7 C811.3,1450.8 815.2,1452.3 820,1452.5 C824.8,1452.7 830.4,1452.5 835.6,1453 C840.8,1453.5 846.5,1454.6 851.3,1455.6 C856.1,1456.6 860.5,1458.9 864.4,1459 C868.3,1459.1 870.9,1457.5 874.8,1456.4 C878.7,1455.3 883.1,1452.9 887.9,1452.5 C892.7,1452.1 897.9,1453.9 903.6,1453.8 C909.3,1453.7 914.1,1452 921.9,1452 C929.7,1452 943.2,1452.6 950.6,1453.8 C958,1455 961.1,1457.7 966.3,1459 C971.5,1460.3 977.6,1460.7 982,1461.6 C986.4,1462.5 988.9,1464.8 992.4,1464.2 C995.9,1463.6 999.4,1458.9 1002.9,1458.2 C1006.4,1457.5 1009.8,1459.2 1013.3,1459.8 C1016.8,1460.4 1020.3,1461.9 1023.8,1461.6 C1027.3,1461.2 1029,1460.8 1034.2,1457.7 C1039.4,1454.7 1048.6,1448.2 1055.1,1443.3 C1061.6,1438.4 1068.2,1432.6 1073.4,1428.4 C1078.6,1424.2 1082.1,1420.7 1086.5,1418 C1090.9,1415.3 1095.2,1415.4 1099.6,1412 C1103.9,1408.6 1107.8,1402.6 1112.6,1397.6 C1117.4,1392.6 1123.9,1387.1 1128.3,1381.9 C1132.7,1376.7 1135.2,1371 1138.8,1366.2 C1142.4,1361.4 1146.4,1357.8 1150,1353.2 C1153.6,1348.6 1157.5,1342.1 1160.5,1338.8 C1163.5,1335.5 1164.6,1335.6 1168.3,1333.6 C1172,1331.6 1178.8,1329.2 1182.7,1327 C1186.6,1324.8 1188.3,1322.9 1191.8,1320.5 C1195.3,1318.1 1200.1,1313.6 1203.6,1312.7 C1207.1,1311.8 1209.4,1314 1212.7,1315.3 C1216,1316.6 1217.3,1319.6 1223.2,1320.5 C1229.1,1321.4 1242.8,1319.8 1248,1320.5 C1253.2,1321.2 1251.7,1321.4 1254.5,1324.4 C1257.3,1327.5 1260.6,1333.3 1265,1338.8 C1269.4,1344.2 1275.3,1351.2 1280.7,1357.1 C1286.1,1363 1293.2,1369.1 1297.6,1374.1 C1301.9,1379.1 1303.1,1381.9 1306.8,1387.1 C1310.5,1392.3 1315.1,1400 1319.9,1405.4 C1324.7,1410.9 1330.7,1416.4 1335.5,1419.8 C1340.3,1423.2 1343.4,1424 1348.6,1425.8 C1353.8,1427.5 1361.5,1428.5 1366.9,1430.3 C1372.4,1432 1377.4,1435.9 1381.3,1436.3 C1385.2,1436.7 1384.1,1433.2 1390.4,1432.9 C1396.7,1432.6 1411.4,1435 1419.2,1434.7 C1427,1434.4 1431.4,1432.2 1437.5,1431 C1443.6,1429.8 1450,1427.8 1455.7,1427.6 C1461.4,1427.3 1466,1429.7 1471.4,1429.5 C1476.9,1429.3 1481.9,1426 1488.4,1426.3 C1494.9,1426.5 1502.1,1430.1 1510.6,1431 C1519.1,1431.9 1532.4,1430.5 1539.4,1431.6 C1546.4,1432.6 1547.6,1434.7 1552.4,1437.3 C1557.2,1439.9 1562.9,1445.8 1568.1,1447.2 C1573.3,1448.6 1579.9,1446.6 1583.8,1445.9 C1587.7,1445.2 1588.1,1443 1591.6,1443.3 C1595.1,1443.6 1600.8,1447.6 1604.7,1447.8 C1608.6,1448 1611.3,1444.9 1615.2,1444.6 C1619.1,1444.3 1624.3,1446.7 1628.2,1445.9 C1632.1,1445.1 1634.8,1439.7 1638.7,1439.9 C1642.6,1440.1 1646.1,1446.1 1651.7,1447.2 C1657.3,1448.3 1664.8,1447.6 1672.6,1446.7 C1680.4,1445.8 1691.1,1443.1 1698.8,1442 C1706.5,1440.9 1710.3,1442 1718.5,1440.1 C1726.7,1438.2 1740.1,1434.2 1748.1,1430.8 C1756.1,1427.4 1760.3,1424.3 1766.5,1419.7 C1772.7,1415.1 1777.6,1410.5 1785,1403.1 C1792.4,1395.7 1805.4,1380.8 1810.9,1375.4 C1816.5,1370 1814,1371.7 1818.3,1370.9 C1822.6,1370.2 1831.9,1373.2 1836.8,1370.9 C1841.7,1368.6 1844.2,1365.4 1847.9,1356.9 C1851.6,1348.4 1855.3,1332.2 1859,1319.9 C1862.7,1307.6 1865.7,1294.7 1870,1283 C1874.3,1271.3 1879.9,1260.2 1884.8,1249.7 C1889.7,1239.2 1894,1228.1 1899.6,1220.1 C1905.1,1212.1 1912.5,1208.1 1918.1,1201.6 C1923.6,1195.1 1928.6,1185 1932.9,1181.3 C1937.2,1177.6 1940.3,1183.1 1944,1179.4 C1947.7,1175.7 1950.8,1164.9 1955.1,1159.1 C1959.4,1153.2 1965.6,1150.8 1969.9,1144.3 C1974.2,1137.8 1976.7,1129.8 1981,1120.3 C1985.3,1110.8 1990.2,1099.9 1995.7,1087 C2001.2,1074.1 2009.3,1053.5 2014.2,1042.7 C2019.1,1031.9 2021.6,1030.3 2025.3,1022.3 C2029,1014.3 2032.4,1006 2036.4,994.6 C2040.4,983.2 2045.4,964.7 2049.4,953.9 C2053.4,943.1 2057,932.4 2060.4,929.9 C2063.8,927.4 2066.3,930.8 2069.7,939.1 C2073.1,947.4 2077.1,966.8 2080.8,979.8 C2084.5,992.8 2088.2,1005.7 2091.9,1016.8 C2095.6,1027.9 2099.9,1039 2103,1046.4 C2106.1,1053.8 2107.3,1052.5 2110.4,1061.1 C2113.5,1069.7 2117.7,1087 2121.4,1098.1 C2125.1,1109.2 2128.5,1120 2132.5,1127.7 C2136.5,1135.4 2141.8,1141.5 2145.5,1144.3 C2149.2,1147.1 2151,1146.1 2154.7,1144.3 C2158.4,1142.5 2163.4,1134.4 2167.7,1133.2 C2172,1132 2176.6,1135.7 2180.6,1136.9 C2184.6,1138.1 2186.8,1143.1 2191.7,1140.6 C2196.6,1138.1 2204,1128.2 2210.2,1122.1 C2216.4,1115.9 2222.5,1110.8 2228.7,1103.7 C2234.8,1096.6 2241.6,1088.5 2247.1,1079.6 C2252.6,1070.7 2257,1057.5 2261.9,1050.1 C2266.8,1042.7 2272.4,1041.7 2276.7,1035.3 C2281,1028.9 2284.2,1019.6 2287.8,1011.8 C2291.4,1004 2294.4,994.8 2298.3,988.3 C2302.2,981.8 2307.5,977.4 2311.4,972.6 C2315.3,967.8 2318.3,966.2 2321.8,959.5 C2325.3,952.8 2328.8,938 2332.3,932.1 C2335.8,926.2 2338.8,927 2342.7,924.2 C2346.6,921.4 2351.5,919.7 2355.8,915.1 C2360.2,910.5 2364,903.1 2368.8,896.8 C2373.6,890.5 2380.1,882.2 2384.5,877.2 C2388.9,872.2 2392.4,868.7 2395,866.7 C2397.6,864.7 2397.1,867.4 2400.2,865.4 C2403.2,863.4 2408.5,859.6 2413.3,855 C2418.1,850.4 2424.2,843.2 2429,838 C2433.8,832.8 2437.7,828.2 2442,823.6 C2446.3,819 2450.7,814.1 2455.1,810.6 C2459.5,807.1 2463.4,805.5 2468.2,802.7 C2473,799.9 2479.9,794.7 2483.8,793.6 C2487.7,792.5 2488.2,794.5 2491.7,796.2 C2495.2,797.9 2501.2,801.2 2504.7,804 C2508.2,806.8 2510,808.8 2512.6,813.2 C2515.2,817.6 2517.8,823.7 2520.4,830.2 C2523,836.7 2526.1,845.6 2528.3,852.4 C2530.5,859.1 2531.3,865.5 2533.5,870.7 C2535.7,875.9 2538.2,878.1 2541.3,883.7 C2544.4,889.4 2548.3,899.4 2551.8,904.6 C2555.3,909.8 2559.1,913.8 2562.2,915.1 C2565.2,916.4 2567,915.8 2570.1,912.5 C2573.2,909.2 2577,900.5 2580.5,895.5 C2584,890.5 2587.5,884.8 2591,882.4 C2594.5,880 2598.3,882.2 2601.4,881.1 C2604.5,880 2606.7,876.3 2609.3,875.9 C2611.9,875.5 2614.5,873.3 2617.1,878.5 C2619.7,883.7 2622.3,898.1 2624.9,907.2 C2627.5,916.4 2630.4,926.9 2632.8,933.4 C2635.2,939.9 2636.7,944 2639.3,946.4 C2641.9,948.8 2645.7,946 2648.5,947.8 C2651.3,949.5 2653.2,953 2656.3,956.9 C2659.4,960.8 2663.3,967.6 2666.8,971.3 C2670.3,975 2674.1,977.1 2677.2,979.1 C2680.2,981.1 2681.6,980.2 2685.1,983 C2688.6,985.8 2694.2,994.6 2698.1,996.1 C2702,997.6 2704.2,995.5 2708.6,992.2 C2712.9,988.9 2719.8,983.2 2724.2,976.5 C2728.5,969.8 2731.6,962.4 2734.7,951.7 C2737.8,941 2739.9,920.8 2742.5,912.5 C2745.1,904.2 2747.3,904.1 2750.4,902 C2753.5,899.9 2757.3,899.5 2760.8,899.9 C2764.3,900.3 2766.5,901.2 2771.3,904.6 C2776.1,908 2784.4,915.7 2789.6,920.3 C2794.8,924.9 2798.2,928.8 2802.6,932.1 C2806.9,935.4 2811.3,937.7 2815.7,939.9 C2820.1,942.1 2824,944.2 2828.8,945.1 C2833.6,946 2839.7,945.7 2844.5,945.1 C2849.3,944.5 2853.2,941.4 2857.5,941.7 C2861.8,942 2867.2,946.1 2870.5,946.9 C2873.8,947.7 2874.8,947 2877,946.3 C2879.2,945.5 2881.1,942.4 2883.5,942.4 C2885.9,942.4 2887.9,943 2891.4,946.3 C2894.9,949.6 2900.9,958.3 2904.4,962 C2907.9,965.7 2908.8,966 2912.3,968.6 C2915.8,971.2 2921,974.2 2925.3,977.7 C2929.7,981.2 2934.2,986.5 2938.4,989.5 C2942.6,992.5 2947.1,994 2950.2,996 C2953.2,998 2953.9,997.9 2956.7,1001.2 C2959.5,1004.5 2962.3,1010.1 2967.1,1015.6 C2971.9,1021.1 2980.2,1028.9 2985.4,1033.9 C2990.6,1038.9 2993.3,1041.7 2998.5,1045.6 C3003.7,1049.5 3012,1054.6 3016.8,1057.4 C3021.6,1060.2 3023.7,1060.4 3027.2,1062.6 C3030.7,1064.8 3034.2,1069.4 3037.7,1070.5 C3041.2,1071.6 3045.1,1071.8 3048.2,1069.2 C3051.2,1066.6 3053.4,1058.7 3056,1054.8 C3058.6,1050.9 3060.3,1047.5 3063.8,1045.6 C3067.3,1043.7 3071.7,1043.8 3076.9,1043.6 C3082.1,1043.4 3090.4,1043.5 3095.2,1044.3 C3100,1045.1 3102.5,1048.5 3105.6,1048.3 C3108.7,1048.1 3110.4,1046.9 3113.5,1043 C3116.6,1039.1 3120.4,1031.5 3123.9,1024.7 C3127.4,1018 3131.4,1010.3 3134.4,1002.5 C3137.4,994.7 3139.6,985.8 3142.2,977.7 C3144.8,969.7 3147.5,962.2 3150.1,954.2 C3152.7,946.2 3155.3,936.8 3157.9,929.4 C3160.5,922 3163.1,916.6 3165.7,909.8 C3168.3,903 3171,894 3173.6,888.8 C3176.2,883.6 3178.8,879.7 3181.4,878.4 C3184,877.1 3186.2,878.4 3189.3,881 C3192.4,883.6 3195.8,890.2 3199.7,894.1 C3203.6,898 3209.8,901 3212.8,904.5 C3215.9,908 3215.8,908.7 3218,915 C3220.2,921.3 3223.2,933.2 3225.8,942.4 C3228.4,951.5 3231.1,961.8 3233.7,969.9 C3236.3,978 3238.4,984.7 3241.5,990.8 C3244.6,996.9 3248.1,1001.4 3252,1006.4 C3255.9,1011.4 3260.8,1015.3 3265.1,1020.8 C3269.4,1026.2 3274.6,1034.5 3278.1,1039.1 C3281.6,1043.7 3283.4,1046.2 3286,1048.3 C3288.6,1050.3 3290.8,1048.4 3293.8,1051.4 C3296.8,1054.5 3300.3,1061.2 3304.2,1066.6 C3308.1,1071.9 3313.4,1077.8 3317.3,1083.5 C3321.2,1089.2 3324.3,1093.3 3327.8,1100.5 C3331.3,1107.7 3335.1,1119.7 3338.2,1126.7 C3341.2,1133.7 3343.5,1138.8 3346.1,1142.3 C3348.7,1145.8 3350.8,1149.1 3353.9,1147.6 C3357,1146.1 3361.4,1138.4 3364.4,1133.2 C3367.4,1128 3369.6,1120.1 3372.2,1116.2 C3374.8,1112.3 3376.5,1108.6 3380,1109.7 C3383.5,1110.8 3389.6,1119.9 3393.1,1122.7 C3396.6,1125.5 3397.8,1127.3 3400.9,1126.7 C3404,1126.1 3407.5,1119.1 3411.4,1119.3 C3415.3,1119.5 3420.2,1129.2 3424.5,1128 C3428.8,1126.8 3432.1,1115 3437.5,1112.3 C3442.9,1109.6 3452.7,1110.9 3457,1112.1 C3461.3,1113.2 3460.7,1113 3463.5,1119.2 C3466.3,1125.4 3470.5,1138.8 3474,1149.2 C3477.5,1159.7 3480.9,1171.7 3484.4,1181.9 C3487.9,1192.2 3491.9,1201.6 3494.9,1210.7 C3497.9,1219.8 3500.1,1228.5 3502.7,1236.8 C3505.3,1245.1 3508,1253.3 3510.6,1260.3 C3513.2,1267.3 3515.4,1272.7 3518.4,1278.6 C3521.4,1284.5 3524.9,1290.4 3528.8,1295.6 C3532.7,1300.8 3537.5,1304.1 3541.9,1310 C3546.3,1315.9 3551.1,1325 3555,1330.9 C3558.9,1336.8 3561.9,1341.5 3565.4,1345.2 C3568.9,1348.9 3572,1350.9 3575.9,1353.1 C3579.8,1355.3 3583.3,1357.4 3589,1358.3 C3594.7,1359.2 3604.2,1358 3609.9,1358.3 C3615.6,1358.6 3619,1360.1 3622.9,1360.1 C3626.8,1360.1 3630.8,1357.7 3633.4,1358.3 C3636,1358.9 3636,1359.4 3638.6,1363.5 C3641.2,1367.6 3645.2,1377.6 3649.1,1383.1 C3653,1388.5 3657.8,1393.4 3662.1,1396.2 C3666.4,1399 3669.5,1398.1 3675.2,1400.1 C3680.9,1402.1 3689.6,1405.6 3696.1,1408 C3702.6,1410.4 3709.2,1413 3714.4,1414.5 C3719.6,1416 3721.8,1415.4 3727.5,1417.1 C3733.2,1418.8 3742.3,1422.7 3748.4,1424.9 C3754.5,1427.1 3759.2,1429.7 3764,1430.2 C3768.8,1430.7 3772.7,1427.1 3777.1,1428.1 C3781.5,1429 3785.4,1434.9 3790.2,1435.9 C3795,1436.9 3799.7,1435.7 3805.8,1434.1 C3811.9,1432.5 3819.8,1428.2 3826.8,1426.2 C3833.8,1424.2 3839,1424.2 3847.7,1422.3 C3856.4,1420.3 3870.3,1417 3879,1414.5 C3887.7,1412 3894.3,1409.5 3900,1407.4 C3905.7,1405.4 3909.2,1403.8 3913.1,1402.2 C3917,1400.6 3920.2,1399.1 3923.5,1397.6 C3926.8,1396.1 3929,1393.8 3932.7,1393 C3936.4,1392.2 3941.3,1392 3945.7,1393 C3950,1394 3954.4,1396.9 3958.8,1398.9 C3963.2,1400.9 3966.9,1403.2 3971.9,1404.8 C3976.9,1406.4 3983.9,1407.1 3988.9,1408.7 C3993.9,1410.3 3997.1,1412.8 4001.9,1414.6 C4006.7,1416.3 4011.7,1417.6 4017.6,1419.2 C4023.5,1420.8 4032.2,1422.8 4037.2,1424.4 C4042.2,1426 4043.8,1428.2 4047.7,1429 C4051.6,1429.8 4057,1428.2 4060.7,1429 C4064.4,1429.8 4065.8,1432.5 4069.9,1433.5 C4074,1434.5 4081.2,1434.2 4085.5,1434.8 C4089.8,1435.3 4092.7,1435.9 4096,1436.8 C4099.3,1437.7 4101.8,1439.5 4105.1,1440.1 C4108.4,1440.6 4112.6,1440.3 4115.6,1440.1 C4118.6,1439.9 4121.8,1439 4123,1438.8 L4123,1600 L601.8,1600 Z" fill="url(#gfill)"/>
<g stroke-width="3.8" stroke-dasharray="11.8 7.2" fill="none" clip-path="url(#fillclip)"><path d="M601,1473.2 H4120.3" stroke="rgb(66,112,130)"/><path d="M601,1346.2 H4120.3" stroke="rgb(78,115,130)"/><path d="M601,1219.3 H4120.3" stroke="rgb(90,118,131)"/><path d="M601,1092.3 H4120.3" stroke="rgb(102,122,132)"/><path d="M601,965.4 H4120.3" stroke="rgb(114,125,132)"/><path d="M601,838.5 H4120.3" stroke="rgb(126,128,133)"/><path d="M601,711.5 H4120.3" stroke="rgb(131,129,133)"/></g>
<path d="M601.8,1455.6 C603.1,1454.9 607,1452.6 609.6,1451.2 C612.2,1449.8 614.1,1447.2 617.4,1447.2 C620.7,1447.2 623.8,1450.3 629.2,1451.2 C634.7,1452.1 643.6,1451.9 650.1,1452.5 C656.6,1453.1 660.1,1454.1 668.4,1454.6 C676.7,1455.1 692.4,1454.7 699.8,1455.6 C707.2,1456.5 707.6,1459.5 712.8,1459.8 C718,1460.1 725.4,1457.6 731.1,1457.2 C736.8,1456.8 742,1456.8 746.8,1457.2 C751.6,1457.6 756,1459.9 759.9,1459.8 C763.8,1459.7 766.4,1456.4 770.3,1456.4 C774.2,1456.4 779.5,1459.6 783.4,1459.8 C787.3,1460 789.9,1459 793.8,1457.7 C797.7,1456.4 802.5,1452.6 806.9,1451.7 C811.3,1450.8 815.2,1452.3 820,1452.5 C824.8,1452.7 830.4,1452.5 835.6,1453 C840.8,1453.5 846.5,1454.6 851.3,1455.6 C856.1,1456.6 860.5,1458.9 864.4,1459 C868.3,1459.1 870.9,1457.5 874.8,1456.4 C878.7,1455.3 883.1,1452.9 887.9,1452.5 C892.7,1452.1 897.9,1453.9 903.6,1453.8 C909.3,1453.7 914.1,1452 921.9,1452 C929.7,1452 943.2,1452.6 950.6,1453.8 C958,1455 961.1,1457.7 966.3,1459 C971.5,1460.3 977.6,1460.7 982,1461.6 C986.4,1462.5 988.9,1464.8 992.4,1464.2 C995.9,1463.6 999.4,1458.9 1002.9,1458.2 C1006.4,1457.5 1009.8,1459.2 1013.3,1459.8 C1016.8,1460.4 1020.3,1461.9 1023.8,1461.6 C1027.3,1461.2 1029,1460.8 1034.2,1457.7 C1039.4,1454.7 1048.6,1448.2 1055.1,1443.3 C1061.6,1438.4 1068.2,1432.6 1073.4,1428.4 C1078.6,1424.2 1082.1,1420.7 1086.5,1418 C1090.9,1415.3 1095.2,1415.4 1099.6,1412 C1103.9,1408.6 1107.8,1402.6 1112.6,1397.6 C1117.4,1392.6 1123.9,1387.1 1128.3,1381.9 C1132.7,1376.7 1135.2,1371 1138.8,1366.2 C1142.4,1361.4 1146.4,1357.8 1150,1353.2 C1153.6,1348.6 1157.5,1342.1 1160.5,1338.8 C1163.5,1335.5 1164.6,1335.6 1168.3,1333.6 C1172,1331.6 1178.8,1329.2 1182.7,1327 C1186.6,1324.8 1188.3,1322.9 1191.8,1320.5 C1195.3,1318.1 1200.1,1313.6 1203.6,1312.7 C1207.1,1311.8 1209.4,1314 1212.7,1315.3 C1216,1316.6 1217.3,1319.6 1223.2,1320.5 C1229.1,1321.4 1242.8,1319.8 1248,1320.5 C1253.2,1321.2 1251.7,1321.4 1254.5,1324.4 C1257.3,1327.5 1260.6,1333.3 1265,1338.8 C1269.4,1344.2 1275.3,1351.2 1280.7,1357.1 C1286.1,1363 1293.2,1369.1 1297.6,1374.1 C1301.9,1379.1 1303.1,1381.9 1306.8,1387.1 C1310.5,1392.3 1315.1,1400 1319.9,1405.4 C1324.7,1410.9 1330.7,1416.4 1335.5,1419.8 C1340.3,1423.2 1343.4,1424 1348.6,1425.8 C1353.8,1427.5 1361.5,1428.5 1366.9,1430.3 C1372.4,1432 1377.4,1435.9 1381.3,1436.3 C1385.2,1436.7 1384.1,1433.2 1390.4,1432.9 C1396.7,1432.6 1411.4,1435 1419.2,1434.7 C1427,1434.4 1431.4,1432.2 1437.5,1431 C1443.6,1429.8 1450,1427.8 1455.7,1427.6 C1461.4,1427.3 1466,1429.7 1471.4,1429.5 C1476.9,1429.3 1481.9,1426 1488.4,1426.3 C1494.9,1426.5 1502.1,1430.1 1510.6,1431 C1519.1,1431.9 1532.4,1430.5 1539.4,1431.6 C1546.4,1432.6 1547.6,1434.7 1552.4,1437.3 C1557.2,1439.9 1562.9,1445.8 1568.1,1447.2 C1573.3,1448.6 1579.9,1446.6 1583.8,1445.9 C1587.7,1445.2 1588.1,1443 1591.6,1443.3 C1595.1,1443.6 1600.8,1447.6 1604.7,1447.8 C1608.6,1448 1611.3,1444.9 1615.2,1444.6 C1619.1,1444.3 1624.3,1446.7 1628.2,1445.9 C1632.1,1445.1 1634.8,1439.7 1638.7,1439.9 C1642.6,1440.1 1646.1,1446.1 1651.7,1447.2 C1657.3,1448.3 1664.8,1447.6 1672.6,1446.7 C1680.4,1445.8 1691.1,1443.1 1698.8,1442 C1706.5,1440.9 1710.3,1442 1718.5,1440.1 C1726.7,1438.2 1740.1,1434.2 1748.1,1430.8 C1756.1,1427.4 1760.3,1424.3 1766.5,1419.7 C1772.7,1415.1 1777.6,1410.5 1785,1403.1 C1792.4,1395.7 1805.4,1380.8 1810.9,1375.4 C1816.5,1370 1814,1371.7 1818.3,1370.9 C1822.6,1370.2 1831.9,1373.2 1836.8,1370.9 C1841.7,1368.6 1844.2,1365.4 1847.9,1356.9 C1851.6,1348.4 1855.3,1332.2 1859,1319.9 C1862.7,1307.6 1865.7,1294.7 1870,1283 C1874.3,1271.3 1879.9,1260.2 1884.8,1249.7 C1889.7,1239.2 1894,1228.1 1899.6,1220.1 C1905.1,1212.1 1912.5,1208.1 1918.1,1201.6 C1923.6,1195.1 1928.6,1185 1932.9,1181.3 C1937.2,1177.6 1940.3,1183.1 1944,1179.4 C1947.7,1175.7 1950.8,1164.9 1955.1,1159.1 C1959.4,1153.2 1965.6,1150.8 1969.9,1144.3 C1974.2,1137.8 1976.7,1129.8 1981,1120.3 C1985.3,1110.8 1990.2,1099.9 1995.7,1087 C2001.2,1074.1 2009.3,1053.5 2014.2,1042.7 C2019.1,1031.9 2021.6,1030.3 2025.3,1022.3 C2029,1014.3 2032.4,1006 2036.4,994.6 C2040.4,983.2 2045.4,964.7 2049.4,953.9 C2053.4,943.1 2057,932.4 2060.4,929.9 C2063.8,927.4 2066.3,930.8 2069.7,939.1 C2073.1,947.4 2077.1,966.8 2080.8,979.8 C2084.5,992.8 2088.2,1005.7 2091.9,1016.8 C2095.6,1027.9 2099.9,1039 2103,1046.4 C2106.1,1053.8 2107.3,1052.5 2110.4,1061.1 C2113.5,1069.7 2117.7,1087 2121.4,1098.1 C2125.1,1109.2 2128.5,1120 2132.5,1127.7 C2136.5,1135.4 2141.8,1141.5 2145.5,1144.3 C2149.2,1147.1 2151,1146.1 2154.7,1144.3 C2158.4,1142.5 2163.4,1134.4 2167.7,1133.2 C2172,1132 2176.6,1135.7 2180.6,1136.9 C2184.6,1138.1 2186.8,1143.1 2191.7,1140.6 C2196.6,1138.1 2204,1128.2 2210.2,1122.1 C2216.4,1115.9 2222.5,1110.8 2228.7,1103.7 C2234.8,1096.6 2241.6,1088.5 2247.1,1079.6 C2252.6,1070.7 2257,1057.5 2261.9,1050.1 C2266.8,1042.7 2272.4,1041.7 2276.7,1035.3 C2281,1028.9 2284.2,1019.6 2287.8,1011.8 C2291.4,1004 2294.4,994.8 2298.3,988.3 C2302.2,981.8 2307.5,977.4 2311.4,972.6 C2315.3,967.8 2318.3,966.2 2321.8,959.5 C2325.3,952.8 2328.8,938 2332.3,932.1 C2335.8,926.2 2338.8,927 2342.7,924.2 C2346.6,921.4 2351.5,919.7 2355.8,915.1 C2360.2,910.5 2364,903.1 2368.8,896.8 C2373.6,890.5 2380.1,882.2 2384.5,877.2 C2388.9,872.2 2392.4,868.7 2395,866.7 C2397.6,864.7 2397.1,867.4 2400.2,865.4 C2403.2,863.4 2408.5,859.6 2413.3,855 C2418.1,850.4 2424.2,843.2 2429,838 C2433.8,832.8 2437.7,828.2 2442,823.6 C2446.3,819 2450.7,814.1 2455.1,810.6 C2459.5,807.1 2463.4,805.5 2468.2,802.7 C2473,799.9 2479.9,794.7 2483.8,793.6 C2487.7,792.5 2488.2,794.5 2491.7,796.2 C2495.2,797.9 2501.2,801.2 2504.7,804 C2508.2,806.8 2510,808.8 2512.6,813.2 C2515.2,817.6 2517.8,823.7 2520.4,830.2 C2523,836.7 2526.1,845.6 2528.3,852.4 C2530.5,859.1 2531.3,865.5 2533.5,870.7 C2535.7,875.9 2538.2,878.1 2541.3,883.7 C2544.4,889.4 2548.3,899.4 2551.8,904.6 C2555.3,909.8 2559.1,913.8 2562.2,915.1 C2565.2,916.4 2567,915.8 2570.1,912.5 C2573.2,909.2 2577,900.5 2580.5,895.5 C2584,890.5 2587.5,884.8 2591,882.4 C2594.5,880 2598.3,882.2 2601.4,881.1 C2604.5,880 2606.7,876.3 2609.3,875.9 C2611.9,875.5 2614.5,873.3 2617.1,878.5 C2619.7,883.7 2622.3,898.1 2624.9,907.2 C2627.5,916.4 2630.4,926.9 2632.8,933.4 C2635.2,939.9 2636.7,944 2639.3,946.4 C2641.9,948.8 2645.7,946 2648.5,947.8 C2651.3,949.5 2653.2,953 2656.3,956.9 C2659.4,960.8 2663.3,967.6 2666.8,971.3 C2670.3,975 2674.1,977.1 2677.2,979.1 C2680.2,981.1 2681.6,980.2 2685.1,983 C2688.6,985.8 2694.2,994.6 2698.1,996.1 C2702,997.6 2704.2,995.5 2708.6,992.2 C2712.9,988.9 2719.8,983.2 2724.2,976.5 C2728.5,969.8 2731.6,962.4 2734.7,951.7 C2737.8,941 2739.9,920.8 2742.5,912.5 C2745.1,904.2 2747.3,904.1 2750.4,902 C2753.5,899.9 2757.3,899.5 2760.8,899.9 C2764.3,900.3 2766.5,901.2 2771.3,904.6 C2776.1,908 2784.4,915.7 2789.6,920.3 C2794.8,924.9 2798.2,928.8 2802.6,932.1 C2806.9,935.4 2811.3,937.7 2815.7,939.9 C2820.1,942.1 2824,944.2 2828.8,945.1 C2833.6,946 2839.7,945.7 2844.5,945.1 C2849.3,944.5 2853.2,941.4 2857.5,941.7 C2861.8,942 2867.2,946.1 2870.5,946.9 C2873.8,947.7 2874.8,947 2877,946.3 C2879.2,945.5 2881.1,942.4 2883.5,942.4 C2885.9,942.4 2887.9,943 2891.4,946.3 C2894.9,949.6 2900.9,958.3 2904.4,962 C2907.9,965.7 2908.8,966 2912.3,968.6 C2915.8,971.2 2921,974.2 2925.3,977.7 C2929.7,981.2 2934.2,986.5 2938.4,989.5 C2942.6,992.5 2947.1,994 2950.2,996 C2953.2,998 2953.9,997.9 2956.7,1001.2 C2959.5,1004.5 2962.3,1010.1 2967.1,1015.6 C2971.9,1021.1 2980.2,1028.9 2985.4,1033.9 C2990.6,1038.9 2993.3,1041.7 2998.5,1045.6 C3003.7,1049.5 3012,1054.6 3016.8,1057.4 C3021.6,1060.2 3023.7,1060.4 3027.2,1062.6 C3030.7,1064.8 3034.2,1069.4 3037.7,1070.5 C3041.2,1071.6 3045.1,1071.8 3048.2,1069.2 C3051.2,1066.6 3053.4,1058.7 3056,1054.8 C3058.6,1050.9 3060.3,1047.5 3063.8,1045.6 C3067.3,1043.7 3071.7,1043.8 3076.9,1043.6 C3082.1,1043.4 3090.4,1043.5 3095.2,1044.3 C3100,1045.1 3102.5,1048.5 3105.6,1048.3 C3108.7,1048.1 3110.4,1046.9 3113.5,1043 C3116.6,1039.1 3120.4,1031.5 3123.9,1024.7 C3127.4,1018 3131.4,1010.3 3134.4,1002.5 C3137.4,994.7 3139.6,985.8 3142.2,977.7 C3144.8,969.7 3147.5,962.2 3150.1,954.2 C3152.7,946.2 3155.3,936.8 3157.9,929.4 C3160.5,922 3163.1,916.6 3165.7,909.8 C3168.3,903 3171,894 3173.6,888.8 C3176.2,883.6 3178.8,879.7 3181.4,878.4 C3184,877.1 3186.2,878.4 3189.3,881 C3192.4,883.6 3195.8,890.2 3199.7,894.1 C3203.6,898 3209.8,901 3212.8,904.5 C3215.9,908 3215.8,908.7 3218,915 C3220.2,921.3 3223.2,933.2 3225.8,942.4 C3228.4,951.5 3231.1,961.8 3233.7,969.9 C3236.3,978 3238.4,984.7 3241.5,990.8 C3244.6,996.9 3248.1,1001.4 3252,1006.4 C3255.9,1011.4 3260.8,1015.3 3265.1,1020.8 C3269.4,1026.2 3274.6,1034.5 3278.1,1039.1 C3281.6,1043.7 3283.4,1046.2 3286,1048.3 C3288.6,1050.3 3290.8,1048.4 3293.8,1051.4 C3296.8,1054.5 3300.3,1061.2 3304.2,1066.6 C3308.1,1071.9 3313.4,1077.8 3317.3,1083.5 C3321.2,1089.2 3324.3,1093.3 3327.8,1100.5 C3331.3,1107.7 3335.1,1119.7 3338.2,1126.7 C3341.2,1133.7 3343.5,1138.8 3346.1,1142.3 C3348.7,1145.8 3350.8,1149.1 3353.9,1147.6 C3357,1146.1 3361.4,1138.4 3364.4,1133.2 C3367.4,1128 3369.6,1120.1 3372.2,1116.2 C3374.8,1112.3 3376.5,1108.6 3380,1109.7 C3383.5,1110.8 3389.6,1119.9 3393.1,1122.7 C3396.6,1125.5 3397.8,1127.3 3400.9,1126.7 C3404,1126.1 3407.5,1119.1 3411.4,1119.3 C3415.3,1119.5 3420.2,1129.2 3424.5,1128 C3428.8,1126.8 3432.1,1115 3437.5,1112.3 C3442.9,1109.6 3452.7,1110.9 3457,1112.1 C3461.3,1113.2 3460.7,1113 3463.5,1119.2 C3466.3,1125.4 3470.5,1138.8 3474,1149.2 C3477.5,1159.7 3480.9,1171.7 3484.4,1181.9 C3487.9,1192.2 3491.9,1201.6 3494.9,1210.7 C3497.9,1219.8 3500.1,1228.5 3502.7,1236.8 C3505.3,1245.1 3508,1253.3 3510.6,1260.3 C3513.2,1267.3 3515.4,1272.7 3518.4,1278.6 C3521.4,1284.5 3524.9,1290.4 3528.8,1295.6 C3532.7,1300.8 3537.5,1304.1 3541.9,1310 C3546.3,1315.9 3551.1,1325 3555,1330.9 C3558.9,1336.8 3561.9,1341.5 3565.4,1345.2 C3568.9,1348.9 3572,1350.9 3575.9,1353.1 C3579.8,1355.3 3583.3,1357.4 3589,1358.3 C3594.7,1359.2 3604.2,1358 3609.9,1358.3 C3615.6,1358.6 3619,1360.1 3622.9,1360.1 C3626.8,1360.1 3630.8,1357.7 3633.4,1358.3 C3636,1358.9 3636,1359.4 3638.6,1363.5 C3641.2,1367.6 3645.2,1377.6 3649.1,1383.1 C3653,1388.5 3657.8,1393.4 3662.1,1396.2 C3666.4,1399 3669.5,1398.1 3675.2,1400.1 C3680.9,1402.1 3689.6,1405.6 3696.1,1408 C3702.6,1410.4 3709.2,1413 3714.4,1414.5 C3719.6,1416 3721.8,1415.4 3727.5,1417.1 C3733.2,1418.8 3742.3,1422.7 3748.4,1424.9 C3754.5,1427.1 3759.2,1429.7 3764,1430.2 C3768.8,1430.7 3772.7,1427.1 3777.1,1428.1 C3781.5,1429 3785.4,1434.9 3790.2,1435.9 C3795,1436.9 3799.7,1435.7 3805.8,1434.1 C3811.9,1432.5 3819.8,1428.2 3826.8,1426.2 C3833.8,1424.2 3839,1424.2 3847.7,1422.3 C3856.4,1420.3 3870.3,1417 3879,1414.5 C3887.7,1412 3894.3,1409.5 3900,1407.4 C3905.7,1405.4 3909.2,1403.8 3913.1,1402.2 C3917,1400.6 3920.2,1399.1 3923.5,1397.6 C3926.8,1396.1 3929,1393.8 3932.7,1393 C3936.4,1392.2 3941.3,1392 3945.7,1393 C3950,1394 3954.4,1396.9 3958.8,1398.9 C3963.2,1400.9 3966.9,1403.2 3971.9,1404.8 C3976.9,1406.4 3983.9,1407.1 3988.9,1408.7 C3993.9,1410.3 3997.1,1412.8 4001.9,1414.6 C4006.7,1416.3 4011.7,1417.6 4017.6,1419.2 C4023.5,1420.8 4032.2,1422.8 4037.2,1424.4 C4042.2,1426 4043.8,1428.2 4047.7,1429 C4051.6,1429.8 4057,1428.2 4060.7,1429 C4064.4,1429.8 4065.8,1432.5 4069.9,1433.5 C4074,1434.5 4081.2,1434.2 4085.5,1434.8 C4089.8,1435.3 4092.7,1435.9 4096,1436.8 C4099.3,1437.7 4101.8,1439.5 4105.1,1440.1 C4108.4,1440.6 4112.6,1440.3 4115.6,1440.1 C4118.6,1439.9 4121.8,1439 4123,1438.8" fill="none" stroke="#000" stroke-width="7" stroke-linejoin="round" stroke-linecap="round"/>
<path d="M599.6,711.5 V1600.3 H4123.3 V711.5" fill="none" stroke="#000" stroke-width="6.8"/>
<path d="M577,1473.2 H600 M4123.3,1473.2 H4143 M577,1346.2 H600 M4123.3,1346.2 H4143 M577,1219.3 H600 M4123.3,1219.3 H4143 M577,1092.3 H600 M4123.3,1092.3 H4143 M577,965.4 H600 M4123.3,965.4 H4143 M577,838.5 H600 M4123.3,838.5 H4143 M577,711.5 H600 M4123.3,711.5 H4143" stroke="#000" stroke-width="1.6" fill="none"/>
<path d="M634.5,1600 V1620 M869.5,1600 V1620 M1104.5,1600 V1620 M1339.5,1600 V1620 M1574.5,1600 V1620 M1809.5,1600 V1620 M2044.5,1600 V1620 M2279.5,1600 V1620 M2514.5,1600 V1620 M2749.5,1600 V1620 M2984.5,1600 V1620 M3219.5,1600 V1620 M3454.5,1600 V1620 M3689.5,1600 V1620 M3924.5,1600 V1620" stroke="#000" stroke-width="7" fill="none"/>
<g font-family='"Liberation Sans", Arial, sans-serif' font-weight="bold" font-size="67.5" fill="#333"><text transform="translate(545,1495.7) scale(0.955,1)" text-anchor="end">1000</text><text transform="translate(4165.5,1495.7) scale(0.955,1)">1000</text><text transform="translate(545,1368.8) scale(0.955,1)" text-anchor="end">1100</text><text transform="translate(4165.5,1368.8) scale(0.955,1)">1100</text><text transform="translate(545,1241.8) scale(0.955,1)" text-anchor="end">1200</text><text transform="translate(4165.5,1241.8) scale(0.955,1)">1200</text><text transform="translate(545,1114.8) scale(0.955,1)" text-anchor="end">1300</text><text transform="translate(4165.5,1114.8) scale(0.955,1)">1300</text><text transform="translate(545,987.9) scale(0.955,1)" text-anchor="end">1400</text><text transform="translate(4165.5,987.9) scale(0.955,1)">1400</text><text transform="translate(545,861) scale(0.955,1)" text-anchor="end">1500</text><text transform="translate(4165.5,861) scale(0.955,1)">1500</text><text transform="translate(545,734) scale(0.955,1)" text-anchor="end">1600</text><text transform="translate(4165.5,734) scale(0.955,1)">1600</text></g>
<g font-family='"Liberation Sans", Arial, sans-serif' font-weight="bold" font-size="66.5" fill="#333"><text transform="translate(634.5,1696.5) scale(0.96,1)" text-anchor="middle">0</text><text transform="translate(875.5,1696.5) scale(0.96,1)" text-anchor="middle">10</text><text transform="translate(1110.5,1696.5) scale(0.96,1)" text-anchor="middle">20</text><text transform="translate(1345.5,1696.5) scale(0.96,1)" text-anchor="middle">30</text><text transform="translate(1580.5,1696.5) scale(0.96,1)" text-anchor="middle">40</text><text transform="translate(1815.5,1696.5) scale(0.96,1)" text-anchor="middle">50</text><text transform="translate(2050.5,1696.5) scale(0.96,1)" text-anchor="middle">60</text><text transform="translate(2285.5,1696.5) scale(0.96,1)" text-anchor="middle">70</text><text transform="translate(2520.5,1696.5) scale(0.96,1)" text-anchor="middle">80</text><text transform="translate(2755.5,1696.5) scale(0.96,1)" text-anchor="middle">90</text><text transform="translate(2990.5,1696.5) scale(0.96,1)" text-anchor="middle">100</text><text transform="translate(3225.5,1696.5) scale(0.96,1)" text-anchor="middle">110</text><text transform="translate(3460.5,1696.5) scale(0.96,1)" text-anchor="middle">120</text><text transform="translate(3695.5,1696.5) scale(0.96,1)" text-anchor="middle">130</text><text transform="translate(3930.5,1696.5) scale(0.96,1)" text-anchor="middle">140</text></g>
<g font-family='"Liberation Sans", Arial, sans-serif' font-weight="bold" font-size="51" fill="#000" text-anchor="middle">
<text transform="translate(231,1084) rotate(-90)" x="0" y="0">YÜKSEKLİK</text>
<text transform="translate(291,1084) rotate(-90)" x="0" y="0">ELEVATION</text>
<text transform="translate(351,1084) rotate(-90)" x="0" y="0">(m)</text>
<text x="4308.5" y="1636.2" letter-spacing="1">MESAFE</text>
<text x="4308.5" y="1695.7" letter-spacing="1">DISTANCE</text>
<text x="4308.5" y="1755.2" letter-spacing="1">(km)</text>
<text transform="translate(231,2240) rotate(-90)" x="0" y="0">EĞİM</text>
<text transform="translate(291,2240) rotate(-90)" x="0" y="0">SLOPE</text>
<text transform="translate(351,2240) rotate(-90)" x="0" y="0">(%)</text>
</g>
<path d="M447,518.3 V561.5 M447,584 V611.5 M467.8,612.4 H512.4 M535,612.4 H578 M597,616 V658 M597,683 V693 M639.5,512 V555.5 M639.5,578.7 V622.2 M639.5,645.4 V688.9 M639.5,712.1 V755.6 M639.5,778.8 V822.3 M639.5,845.5 V889 M639.5,912.2 V955.7 M639.5,978.9 V1022.4 M639.5,1045.6 V1089.1 M639.5,1112.3 V1155.8 M639.5,1179 V1222.5 M639.5,1245.7 V1289.2 M639.5,1312.4 V1355.9 M639.5,1379.1 V1409 M1476.7,512 V555.5 M1476.7,578.7 V622.2 M1476.7,645.4 V688.9 M1476.7,712.1 V755.6 M1476.7,778.8 V822.3 M1476.7,845.5 V889 M1476.7,912.2 V955.7 M1476.7,978.9 V1022.4 M1476.7,1045.6 V1089.1 M1476.7,1112.3 V1155.8 M1476.7,1179 V1222.5 M1476.7,1245.7 V1289.2 M1476.7,1312.4 V1355.9 M1476.7,1379.1 V1394 M2057,512 V555.5 M2057,578.7 V622.2 M2057,645.4 V688.9 M2057,712.1 V755.6 M2057,778.8 V822.3 M2057,845.5 V889 M2553.7,512 V555.5 M2553.7,578.7 V622 M2543,640.8 H2509 M2486,640.8 H2442 M2431.6,663.7 V707.2 M2431.6,730.4 V773.9 M3181.5,512 V555.5 M3181.5,578.7 V622.2 M3181.5,645.4 V688.9 M3181.5,712.1 V755.6 M3181.5,778.8 V822 M3834.7,512 V555.5 M3834.7,578.7 V622.2 M3834.7,645.4 V688.9 M3834.7,712.1 V755.6 M3834.7,778.8 V822.3 M3834.7,845.5 V889 M3834.7,912.2 V955.7 M3834.7,978.9 V1022.4 M3834.7,1045.6 V1089.1 M3834.7,1112.3 V1155.8 M3834.7,1179 V1222.5 M3834.7,1245.7 V1289.2 M3834.7,1312.4 V1355.9 M3834.7,1379.1 V1402 M4121,515.5 V559 M4121,582.2 V625.7 M4121,648.9 V691" stroke="#000" stroke-width="5.5" fill="none"/>
<g clip-path="url(#abovegrid)" font-family='"Liberation Sans", Arial, sans-serif' font-weight="bold" font-size="61" fill="#000">
<text transform="translate(2036.5,717.6) rotate(-90)">1420 m</text>
<text transform="translate(3159.7,717.6) rotate(-90)">1454 m</text>
</g>
<circle cx="444.8" cy="435" r="50.8" fill="#fff" stroke="#000" stroke-width="6.2"/>
<text x="444.3" y="461.5" text-anchor="middle" font-family='"Liberation Sans", Arial, sans-serif' font-weight="bold" font-size="72.5" fill="#2ed4b4" stroke="#2ed4b4" stroke-width="3.6">N</text>
<circle cx="637.9" cy="435" r="50.8" fill="#fff" stroke="#000" stroke-width="6.2"/>
<path d="M616,399 L677.5,434.5 L616,469.5 Z" fill="#2ed4b4"/>
<circle cx="1475.8" cy="435" r="50.8" fill="#44f20c" stroke="#000" stroke-width="6.2"/>
<text transform="translate(1475.3,463.4) scale(0.9,1)" text-anchor="middle" font-family='"DejaVu Sans", sans-serif' font-size="69" fill="#fff">S</text>
<circle cx="2056.8" cy="435" r="50.8" fill="#ff0000" stroke="#000" stroke-width="6.2"/>
<text transform="translate(2057.6,463.4) scale(0.9,1)" text-anchor="middle" font-family='"DejaVu Sans", sans-serif' font-size="69" fill="#fff">2</text>
<circle cx="2554.7" cy="435" r="50.8" fill="#1e74c0" stroke="#000" stroke-width="6.2"/>
<g transform="translate(2554.7,435.8)" fill="#fff"><path d="M11.3,-41.2 C13.5,-41.5 15.5,-40.5 14.8,-38 L0,-10 L-21.5,32.5 C-22.5,34.5 -25,35.5 -27,34.5 L-30,31.5 L-9.5,-9.5 C-9,-17 -5,-27 1,-35 C4.5,-38.5 8,-40.8 11.3,-41.2 Z"/><path d="M9.4,-15.2 L25.2,-9.6 C24,-6 20,-3 16,-0.5 C15,0.3 14,1 13.5,2 L-7,41.5 C-8.5,44.5 -12,44.5 -14,43 C-15.5,41.5 -15.5,39.5 -14.5,37.5 L6.5,-3 C8,-6 8.6,-11 9.4,-15.2 Z"/><path d="M10.4,-12.7 L18.3,-29.4 M14.8,-11.2 L22.6,-27.5 M19.1,-9.6 L26.7,-25.6 M23.3,-8.1 L30.8,-23.8" stroke="#fff" stroke-width="2.5" stroke-linecap="round"/></g>
<circle cx="3181.6" cy="435" r="50.8" fill="#ff0000" stroke="#000" stroke-width="6.2"/>
<text transform="translate(3182,463.4) scale(0.9,1)" text-anchor="middle" font-family='"DejaVu Sans", sans-serif' font-size="69" fill="#fff">3</text>
<circle cx="3833.7" cy="435" r="50.8" fill="#fff" stroke="#000" stroke-width="6.2"/>
<g fill="#ff0000"><rect x="3807.7" y="410" width="52" height="52"/><rect x="3807.7" y="410" width="52" height="52" transform="rotate(45 3833.7 436)"/></g>
<circle cx="4122.9" cy="435" r="50.8" fill="#fff" stroke="#000" stroke-width="6.2"/>
<g fill="#ff0000"><rect x="4093" y="406.2" width="12.2" height="12.2"/><rect x="4116.7" y="406.2" width="12.2" height="12.2"/><rect x="4140.4" y="406.2" width="12.2" height="12.2"/><rect x="4104.9" y="418.1" width="12.2" height="12.2"/><rect x="4128.6" y="418.1" width="12.2" height="12.2"/><rect x="4093" y="429.9" width="12.2" height="12.2"/><rect x="4116.7" y="429.9" width="12.2" height="12.2"/><rect x="4140.4" y="429.9" width="12.2" height="12.2"/><rect x="4104.9" y="441.8" width="12.2" height="12.2"/><rect x="4128.6" y="441.8" width="12.2" height="12.2"/><rect x="4093" y="453.6" width="12.2" height="12.2"/><rect x="4116.7" y="453.6" width="12.2" height="12.2"/><rect x="4140.4" y="453.6" width="12.2" height="12.2"/></g>
<g font-family='"Liberation Sans", Arial, sans-serif' font-weight="bold" font-size="61" fill="#000">
<text x="383" y="456" text-anchor="end">-1.6 km</text>
<text x="706" y="456">0 km</text>
<text x="1552" y="456">35.2 km</text>
<text x="2128" y="456">60.4 km</text>
<text x="2620" y="456">76 km</text>
<text x="3111.5" y="456" text-anchor="end">108.2 km</text>
<text x="3767.5" y="456" text-anchor="end">137.5 km</text>
<text x="4191.5" y="456" fill="#ff0000">148.4 km</text>
</g>
<path d="M604.7,2570.4 H4122.4 M604.7,2490.6 H4122.4 M604.7,2410.7 H4122.4 M604.7,2330.9 H4122.4 M604.7,2171.1 H4122.4 M604.7,2091.3 H4122.4 M604.7,2011.4 H4122.4 M641,1931.6 H4087" stroke="#808080" stroke-width="4" stroke-dasharray="12 7" fill="none"/>
<path d="M602,2211H613V2251H602ZM707,2245H719V2251H707ZM719,2239H731V2251H719ZM731,2249H742V2251H731ZM754,2228H766V2251H754ZM778,2236H789V2251H778ZM789,2219H801V2251H789ZM860,2238H872V2251H860ZM872,2225H883V2251H872ZM895,2246H907V2251H895ZM907,2239H918V2251H907ZM989,2207H1001V2251H989ZM1012,2249H1024V2251H1012ZM1024,2203H1036V2251H1024ZM1036,2192H1048V2251H1036ZM1048,2195H1059V2251H1048ZM1059,2189H1071V2251H1059ZM1071,2195H1083V2251H1071ZM1083,2216H1095V2251H1083ZM1095,2171H1106V2251H1095ZM1106,2183H1118V2251H1106ZM1118,2168H1130V2251H1118ZM1130,2128H1142V2251H1130ZM1142,2159H1153V2251H1142ZM1153,2205H1165V2251H1153ZM1165,2217H1177V2251H1165ZM1177,2196H1188V2251H1177ZM1188,2209H1200V2251H1188ZM1224,2249H1235V2251H1224ZM1376,2234H1388V2251H1376ZM1412,2239H1423V2251H1412ZM1423,2239H1435V2251H1423ZM1435,2237H1447V2251H1435ZM1447,2250H1458V2251H1447ZM1470,2239H1482V2251H1470ZM1564,2247H1576V2251H1564ZM1576,2230H1588V2251H1576ZM1599,2233H1611V2251H1599ZM1623,2220H1635V2251H1623ZM1658,2239H1670V2251H1658ZM1670,2246H1682V2251H1670ZM1682,2232H1693V2251H1682ZM1693,2248H1705V2251H1693ZM1705,2245H1717V2251H1705ZM1717,2232H1728V2251H1717ZM1728,2223H1740V2251H1728ZM1740,2209H1752V2251H1740ZM1752,2196H1764V2251H1752ZM1764,2187H1775V2251H1764ZM1775,2184H1787V2251H1775ZM1787,2176H1799V2251H1787ZM1799,2180H1811V2251H1799ZM1811,2241H1822V2251H1811ZM1822,2243H1834V2251H1822ZM1834,2105H1846V2251H1834ZM1846,1999H1858V2251H1846ZM1858,2043H1869V2251H1858ZM1869,2079H1881V2251H1869ZM1881,2097H1893V2251H1881ZM1893,2170H1905V2251H1893ZM1905,2166H1916V2251H1905ZM1916,2162H1928V2251H1916ZM1928,2225H1940V2251H1928ZM1940,2122H1952V2251H1940ZM1952,2166H1963V2251H1952ZM1963,2093H1975V2251H1963ZM1975,2067H1987V2251H1975ZM1987,2075H1998V2251H1987ZM1998,2094H2010V2251H1998ZM2010,2117H2022V2251H2010ZM2022,2062H2034V2251H2022ZM2034,2025H2045V2251H2034ZM2045,2125H2057V2251H2045ZM2139,2231H2151V2251H2139ZM2151,2197H2163V2251H2151ZM2186,2190H2198V2251H2186ZM2198,2174H2210V2251H2198ZM2210,2159H2222V2251H2210ZM2222,2146H2233V2251H2222ZM2233,2154H2245V2251H2233ZM2245,2112H2257V2251H2245ZM2257,2178H2268V2251H2257ZM2268,2118H2280V2251H2268ZM2280,2069H2292V2251H2280ZM2292,2145H2304V2251H2292ZM2304,2178H2315V2251H2304ZM2315,2074H2327V2251H2315ZM2327,2189H2339V2251H2327ZM2339,2194H2351V2251H2339ZM2351,2142H2362V2251H2351ZM2362,2154H2374V2251H2362ZM2374,2168H2386V2251H2374ZM2386,2211H2398V2251H2386ZM2398,2184H2409V2251H2398ZM2409,2180H2421V2251H2409ZM2421,2179H2433V2251H2421ZM2433,2165H2445V2251H2433ZM2445,2197H2456V2251H2445ZM2456,2203H2468V2251H2456ZM2468,2226H2480V2251H2468ZM2562,2151H2574V2251H2562ZM2574,2151H2585V2251H2574ZM2585,2235H2597V2251H2585ZM2597,2230H2609V2251H2597ZM2691,2225H2703V2251H2691ZM2703,2182H2715V2251H2703ZM2715,2102H2726V2251H2715ZM2726,1957H2738V2251H2726ZM2738,2192H2750V2251H2738ZM2832,2246H2844V2251H2832ZM2844,2243H2855V2251H2844ZM2867,2227H2879V2251H2867ZM3043,2124H3055V2251H3043ZM3055,2221H3067V2251H3055ZM3067,2249H3078V2251H3067ZM3102,2135H3114V2251H3102ZM3114,2098H3125V2251H3114ZM3125,2032H3137V2251H3125ZM3137,2019H3149V2251H3137ZM3149,2073H3161V2251H3149ZM3161,2090H3172V2251H3161ZM3349,2165H3360V2251H3349ZM3360,2097H3372V2251H3360ZM3395,2214H3407V2251H3395ZM3419,2165H3431V2251H3419ZM3431,2239H3442V2251H3431ZM3583,2247H3595V2251H3583ZM3759,2243H3771V2251H3759ZM3795,2239H3806V2251H3795ZM3806,2225H3818V2251H3806ZM3818,2225H3830V2251H3818ZM3830,2237H3842V2251H3830ZM3842,2241H3853V2251H3842ZM3853,2226H3865V2251H3853ZM3865,2229H3877V2251H3865ZM3877,2221H3889V2251H3877ZM3889,2219H3900V2251H3889ZM3900,2225H3912V2251H3900ZM3912,2217H3924V2251H3912ZM3924,2244H3935V2251H3924ZM4100,2250H4112V2251H4100Z" fill="#ff0000" shape-rendering="crispEdges"/>
<path d="M613,2251H625V2266H613ZM625,2251H637V2255H625ZM637,2251H648V2261H637ZM648,2251H660V2256H648ZM660,2251H672V2258H660ZM672,2251H684V2253H672ZM684,2251H695V2253H684ZM695,2251H707V2271H695ZM742,2251H754V2271H742ZM766,2251H778V2268H766ZM801,2251H813V2253H801ZM813,2251H825V2256H813ZM825,2251H836V2258H825ZM836,2251H848V2266H836ZM848,2251H860V2265H848ZM883,2251H895V2256H883ZM918,2251H930V2260H918ZM930,2251H942V2251H930ZM942,2251H954V2265H942ZM954,2251H965V2280H954ZM965,2251H977V2263H965ZM977,2251H989V2266H977ZM1001,2251H1012V2273H1001ZM1200,2251H1212V2282H1200ZM1212,2251H1224V2269H1212ZM1235,2251H1247V2264H1235ZM1247,2251H1259V2344H1247ZM1259,2251H1271V2334H1259ZM1271,2251H1282V2338H1271ZM1282,2251H1294V2317H1282ZM1294,2251H1306V2362H1294ZM1306,2251H1318V2344H1306ZM1318,2251H1329V2321H1318ZM1329,2251H1341V2289H1329ZM1341,2251H1353V2274H1341ZM1353,2251H1365V2268H1353ZM1365,2251H1376V2286H1365ZM1388,2251H1400V2263H1388ZM1400,2251H1412V2253H1400ZM1458,2251H1470V2257H1458ZM1482,2251H1494V2256H1482ZM1494,2251H1505V2270H1494ZM1505,2251H1517V2254H1505ZM1517,2251H1529V2253H1517ZM1529,2251H1541V2268H1529ZM1541,2251H1552V2293H1541ZM1552,2251H1564V2295H1552ZM1588,2251H1599V2279H1588ZM1611,2251H1623V2261H1611ZM1635,2251H1646V2292H1635ZM1646,2251H1658V2253H1646ZM2057,2251H2069V2474H2057ZM2069,2251H2081V2501H2069ZM2081,2251H2092V2465H2081ZM2092,2251H2104V2398H2092ZM2104,2251H2116V2501H2104ZM2116,2251H2128V2446H2116ZM2128,2251H2139V2336H2128ZM2163,2251H2175V2272H2163ZM2175,2251H2186V2279H2175ZM2480,2251H2492V2294H2480ZM2492,2251H2503V2301H2492ZM2503,2251H2515V2409H2503ZM2515,2251H2527V2485H2515ZM2527,2251H2538V2374H2527ZM2538,2251H2550V2390H2538ZM2550,2251H2562V2272H2550ZM2609,2251H2621V2477H2609ZM2621,2251H2632V2447H2621ZM2632,2251H2644V2278H2632ZM2644,2251H2656V2352H2644ZM2656,2251H2668V2340H2656ZM2668,2251H2679V2278H2668ZM2679,2251H2691V2333H2679ZM2750,2251H2762V2267H2750ZM2762,2251H2773V2301H2762ZM2773,2251H2785V2317H2773ZM2785,2251H2797V2315H2785ZM2797,2251H2808V2295H2797ZM2808,2251H2820V2285H2808ZM2820,2251H2832V2261H2820ZM2855,2251H2867V2276H2855ZM2879,2251H2891V2315H2879ZM2891,2251H2902V2333H2891ZM2902,2251H2914V2294H2902ZM2914,2251H2926V2307H2914ZM2926,2251H2938V2320H2926ZM2938,2251H2949V2291H2938ZM2949,2251H2961V2348H2949ZM2961,2251H2973V2326H2961ZM2973,2251H2985V2322H2973ZM2985,2251H2996V2315H2985ZM2996,2251H3008V2298H2996ZM3008,2251H3020V2286H3008ZM3020,2251H3032V2307H3020ZM3032,2251H3043V2253H3032ZM3078,2251H3090V2255H3078ZM3090,2251H3102V2270H3090ZM3172,2251H3184V2263H3172ZM3184,2251H3196V2345H3184ZM3196,2251H3208V2323H3196ZM3208,2251H3219V2477H3208ZM3219,2251H3231V2473H3219ZM3231,2251H3243V2412H3231ZM3243,2251H3255V2347H3243ZM3255,2251H3266V2341H3255ZM3266,2251H3278V2345H3266ZM3278,2251H3290V2288H3278ZM3290,2251H3302V2359H3290ZM3302,2251H3313V2352H3302ZM3313,2251H3325V2387H3313ZM3325,2251H3337V2424H3325ZM3337,2251H3349V2334H3337ZM3372,2251H3384V2303H3372ZM3384,2251H3395V2298H3384ZM3407,2251H3419V2297H3407ZM3442,2251H3454V2277H3442ZM3454,2251H3466V2433H3454ZM3466,2251H3478V2452H3466ZM3478,2251H3489V2453H3478ZM3489,2251H3501V2474H3489ZM3501,2251H3513V2458H3501ZM3513,2251H3525V2376H3513ZM3525,2251H3536V2336H3525ZM3536,2251H3548V2362H3536ZM3548,2251H3560V2357H3548ZM3560,2251H3572V2307H3560ZM3572,2251H3583V2287H3572ZM3595,2251H3607V2261H3595ZM3607,2251H3619V2256H3607ZM3619,2251H3630V2256H3619ZM3630,2251H3642V2388H3630ZM3642,2251H3654V2328H3642ZM3654,2251H3665V2273H3654ZM3665,2251H3677V2277H3665ZM3677,2251H3689V2274H3677ZM3689,2251H3701V2271H3689ZM3701,2251H3712V2285H3701ZM3712,2251H3724V2265H3712ZM3724,2251H3736V2276H3724ZM3736,2251H3748V2278H3736ZM3748,2251H3759V2281H3748ZM3771,2251H3783V2294H3771ZM3783,2251H3795V2252H3783ZM3935,2251H3947V2269H3935ZM3947,2251H3959V2279H3947ZM3959,2251H3971V2276H3959ZM3971,2251H3982V2270H3971ZM3982,2251H3994V2283H3982ZM3994,2251H4006V2270H3994ZM4006,2251H4018V2278H4006ZM4018,2251H4029V2269H4018ZM4029,2251H4041V2284H4029ZM4041,2251H4053V2257H4041ZM4053,2251H4065V2283H4053ZM4065,2251H4076V2260H4065ZM4076,2251H4088V2262H4076ZM4088,2251H4100V2273H4088ZM4112,2251H4123V2265H4112Z" fill="#00ff00" shape-rendering="crispEdges"/>
<path d="M604.7,2251 H4122.4" stroke="#808080" stroke-width="4" stroke-dasharray="12 7" fill="none"/>
<path d="M601.7,1969 V2571.9 M4125.4,1969 V2571.9" stroke="#000" stroke-width="5" fill="none"/>
<path d="M586,2570.4 H601.7 M4125.4,2570.4 H4142 M586,2490.6 H601.7 M4125.4,2490.6 H4142 M586,2410.7 H601.7 M4125.4,2410.7 H4142 M586,2330.9 H601.7 M4125.4,2330.9 H4142 M586,2251 H601.7 M4125.4,2251 H4142 M586,2171.1 H601.7 M4125.4,2171.1 H4142 M586,2091.3 H601.7 M4125.4,2091.3 H4142 M586,2011.4 H601.7 M4125.4,2011.4 H4142" stroke="#000" stroke-width="1.6" fill="none"/>
<g font-family='"Liberation Sans", Arial, sans-serif' font-weight="bold" font-size="57" fill="#000"><text transform="translate(551.8,2589.9) scale(0.9,1)" text-anchor="end" letter-spacing="-3">-8</text><text transform="translate(4176.8,2589.9) scale(0.9,1)" letter-spacing="-3">-8</text><text transform="translate(551.8,2510.1) scale(0.9,1)" text-anchor="end" letter-spacing="-3">-6</text><text transform="translate(4176.8,2510.1) scale(0.9,1)" letter-spacing="-3">-6</text><text transform="translate(551.8,2430.2) scale(0.9,1)" text-anchor="end" letter-spacing="-3">-4</text><text transform="translate(4176.8,2430.2) scale(0.9,1)" letter-spacing="-3">-4</text><text transform="translate(551.8,2350.4) scale(0.9,1)" text-anchor="end" letter-spacing="-3">-2</text><text transform="translate(4176.8,2350.4) scale(0.9,1)" letter-spacing="-3">-2</text><text transform="translate(551.8,2270.5) scale(0.9,1)" text-anchor="end" letter-spacing="-3">0</text><text transform="translate(4176.8,2270.5) scale(0.9,1)" letter-spacing="-3">0</text><text transform="translate(551.8,2190.6) scale(0.9,1)" text-anchor="end" letter-spacing="-3">2</text><text transform="translate(4176.8,2190.6) scale(0.9,1)" letter-spacing="-3">2</text><text transform="translate(551.8,2110.8) scale(0.9,1)" text-anchor="end" letter-spacing="-3">4</text><text transform="translate(4176.8,2110.8) scale(0.9,1)" letter-spacing="-3">4</text><text transform="translate(551.8,2030.9) scale(0.9,1)" text-anchor="end" letter-spacing="-3">6</text><text transform="translate(4176.8,2030.9) scale(0.9,1)" letter-spacing="-3">6</text><text transform="translate(551.8,1951.1) scale(0.9,1)" text-anchor="end" letter-spacing="-3">8</text><text transform="translate(4176.8,1951.1) scale(0.9,1)" letter-spacing="-3">8</text></g>
<circle cx="602.9" cy="1930.9" r="35.4" fill="#fff" stroke="#000" stroke-width="4.8"/>
<text x="602.5" y="1950" text-anchor="middle" font-family='"Liberation Sans", Arial, sans-serif' font-weight="bold" font-size="52" fill="#2ed4b4" stroke="#2ed4b4" stroke-width="2">N</text>
<circle cx="4125" cy="1930.7" r="35.4" fill="#fff" stroke="#000" stroke-width="4.8"/>
<g fill="#ff0000"><rect x="4103.8" y="1910" width="8.8" height="8.8"/><rect x="4120.7" y="1910" width="8.8" height="8.8"/><rect x="4137.6" y="1910" width="8.8" height="8.8"/><rect x="4112.2" y="1918.5" width="8.8" height="8.8"/><rect x="4129.2" y="1918.5" width="8.8" height="8.8"/><rect x="4103.8" y="1926.9" width="8.8" height="8.8"/><rect x="4120.7" y="1926.9" width="8.8" height="8.8"/><rect x="4137.6" y="1926.9" width="8.8" height="8.8"/><rect x="4112.2" y="1935.3" width="8.8" height="8.8"/><rect x="4129.2" y="1935.3" width="8.8" height="8.8"/><rect x="4103.8" y="1943.8" width="8.8" height="8.8"/><rect x="4120.7" y="1943.8" width="8.8" height="8.8"/><rect x="4137.6" y="1943.8" width="8.8" height="8.8"/></g>
<g transform="translate(540,2730) scale(0.21777)" fill="#00aac8" aria-label="TUR"><title>TUR</title>
<path d="M95,80 L880,78 C960,78 1015,125 1015,205 L1012,285 L615,285 L445,920 C425,990 380,1030 300,1030 L130,1030 L330,285 L250,285 C150,285 90,240 90,160 Z"/>
<path d="M680,330 L860,330 C915,330 945,370 940,430 L890,700 C880,770 930,822 1010,822 C1100,822 1180,760 1220,640 L1232,628 C1300,678 1390,668 1510,666 L1440,805 C1290,775 1140,815 1085,905 C1055,955 1045,1000 1045,1040 L900,1040 C680,1040 585,935 590,790 C592,700 620,560 680,330 Z"/>
<path d="M1068,1035 C1130,915 1265,850 1412,848 C1345,960 1235,1030 1068,1035 Z"/>
<path d="M1287.3,406.9 C1295,360 1310,290 1330,225 C1350,165 1390,110 1440,85 C1470,73 1490,71 1505.2,70.8 L1972.0,70.8 C2050,72 2120,110 2160,165 C2180,210 2182,260 2180,300 C2178,420 2100,520 1990,570 C1940,590 1890,597 1853.8,596.8 L1766.6,444.3 L1841.3,400.7 C1860,380 1862,330 1847.5,307.4 C1830,285 1790,262 1741.7,260.7 C1700,262 1650,285 1623.4,313.6 C1560,318 1474,326 1420,340 C1370,355 1320,380 1287.3,406.9 Z"/>
<path d="M1623.4,315.4 L1691.9,314.8 L1754.2,319.8 L1763.5,327.3 L1691.9,333.5 L1667.0,347.8 Z"/>
<path d="M1670.1,349.7 L1704.4,357.1 L1729.2,382.1 L1751.0,419.4 L1757.3,436.8 L1735.5,419.4 L1704.4,388.3 Z"/>
<path d="M1293.5,543.9 C1290,500 1330,465 1393.1,431.9 C1430,415 1480,408 1530.1,408.2 C1570,410 1610,435 1635.9,459.9 L1741.7,562.6 L1810.2,643.5 C1800,660 1810,690 1822.6,699.5 L1853.8,721.3 L1691.9,725.7 C1690,690 1670,640 1629.7,599.9 C1600,575 1550,558 1517.6,557.6 C1470,556 1420,565 1393.1,567.6 C1360,572 1320,575 1293.5,543.9 Z"/>
<path d="M1869.3,643.5 C1875,628 1900,622 1922.2,637.3 C1950,660 1975,710 1993.8,755.6 C1960,740 1910,722 1880,695 C1868,680 1866,660 1869.3,643.5 Z"/>
<path d="M1688.8,777.3 C1750,760 1850,752 1909.8,755.6 L1996.9,768.0 L2009.4,845.8 C1960,838 1900,838 1850,850 C1790,870 1740,900 1716.8,929.9 C1700,900 1688,860 1686,824 Z"/>
<path d="M1741.7,964.1 C1770,920 1820,880 1866.2,861.4 C1910,845 1960,843 2009.4,848.9 L2059.2,1029.5 L1990,1030 C1900,1028 1800,1010 1741.7,964.1 Z"/>
</g>
<g font-family='"DejaVu Sans", sans-serif' font-style="italic" fill="#00aac8" font-size="41">
<text x="556" y="3013" textLength="453" lengthAdjust="spacingAndGlyphs">54.CUMHURBASKANLIGI</text>
<text x="556" y="3056" textLength="453" lengthAdjust="spacingAndGlyphs">TURKİYE BİSİKLET TURU</text>
</g>
<g font-family='"DejaVu Sans", sans-serif' stroke="#00aac8" stroke-width="3.6" stroke-linejoin="round">
<text x="1101" y="2830.2" font-size="90.5" fill="#00aac8" textLength="191.5" lengthAdjust="spacingAndGlyphs" >Etap</text>
<text transform="translate(1337,2820) skewX(-26)" font-size="74" fill="#00aac8" stroke-width="7" stroke-linecap="round">/</text>
<text x="1433.5" y="2830.2" font-size="90.5" fill="#00aac8" textLength="237" lengthAdjust="spacingAndGlyphs" >Stage</text>
<text x="1703" y="2830.2" font-size="90.5" fill="#00aac8" textLength="37.5" lengthAdjust="spacingAndGlyphs" >1</text>
</g>
<g font-family='"DejaVu Sans", sans-serif' stroke="#7b7b7b" stroke-width="3.2" stroke-linejoin="round">
<text x="1101" y="2943" font-size="73" fill="#7b7b7b" textLength="276" lengthAdjust="spacing">KONYA</text>
<text x="1418" y="2943" font-size="73" fill="#7b7b7b">-</text>
<text x="1484" y="2943" font-size="73" fill="#7b7b7b" textLength="278.5" lengthAdjust="spacing">KONYA</text>
</g>
<g font-family='"DejaVu Sans", sans-serif' font-style="italic" stroke="#ababab" stroke-width="3.4" stroke-linejoin="round">
<text x="1104" y="3051.6" font-size="75" fill="#ababab" textLength="45" lengthAdjust="spacingAndGlyphs" >9</text>
<text x="1170" y="3051.6" font-size="75" fill="#ababab" textLength="182" lengthAdjust="spacingAndGlyphs" >Ekim</text>
<text transform="translate(1363,3045) skewX(-36)" font-size="66" fill="#ababab" stroke-width="6">/</text>
<text x="1422" y="3051.6" font-size="75" fill="#ababab" textLength="297" lengthAdjust="spacingAndGlyphs" >October</text>
<text x="1746" y="3051.6" font-size="75" fill="#ababab" textLength="177" lengthAdjust="spacingAndGlyphs" >2018</text>
</g>
<g font-family='"Liberation Sans", Arial, sans-serif' font-style="italic" font-size="38.3" fill="#000">
<text x="2649.5" y="3000.5" word-spacing="2.1">Grafiklere yansıyan yükseklik ve eğim değlerleri 500 metrelik segment ortalamasını yansıtır.</text>
<text x="2649.5" y="3045.5" word-spacing="9.9">Values on graphs reflect average elevation and slope values of 500 meters segments.</text>
</g>
</svg>
</body></html>
